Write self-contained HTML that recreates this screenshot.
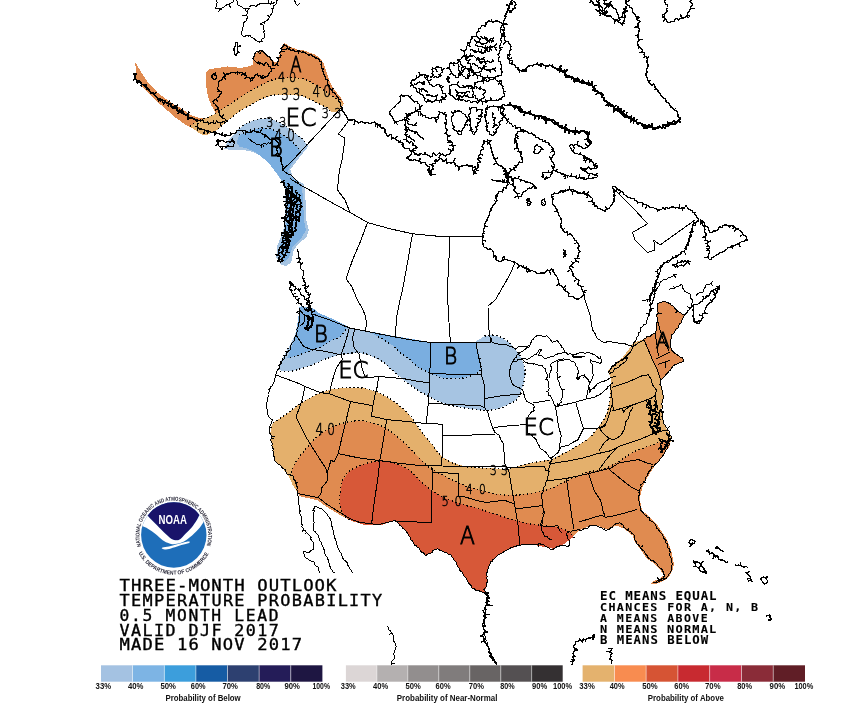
<!DOCTYPE html>
<html><head><meta charset="utf-8"><title>Three-Month Outlook Temperature Probability</title>
<style>
html,body{margin:0;padding:0;background:#fff;}
body{width:852px;height:719px;overflow:hidden;position:relative;}
svg{position:absolute;left:0;top:0;}
.map path{fill:none;stroke:#000;stroke-width:1;stroke-linejoin:round;shape-rendering:crispEdges;}
.map path[fill]{stroke:none;}
.map path.dt{stroke:#000;stroke-width:1.3;stroke-dasharray:1.3 2.6;}
.num{font-family:"DejaVu Sans",sans-serif;font-weight:200;fill:#000;stroke:#000;stroke-width:0.5px;}
.lbl{font-family:"DejaVu Sans",sans-serif;font-weight:200;fill:#000;stroke:#000;stroke-width:0.95px;}
.ttl{font-family:"DejaVu Sans Mono",monospace;font-weight:normal;fill:#000;stroke:#000;stroke-width:0.35px;}
.ttlb{font-weight:bold;stroke-width:0.1px;}
.lg{font-family:"Liberation Sans",sans-serif;font-weight:bold;fill:#111;}
</style></head>
<body>
<svg width="852" height="719" viewBox="0 0 852 719">
<g class="map">
<path d="M135.3 62.3 L141.1 72 L147.4 81.7 L157.8 92.9 L168.9 101.2 L182.9 109.5 L190 114.5 L195.6 116.9 L204.1 118.8 L211.6 117.9 L215.8 115 L214.5 110.5 L211.5 105.5 L209.2 100 L207.6 94.4 L206 85 L205.8 78 L206.5 72 L209.3 69.2 L219 67.8 L227.4 66.4 L240 67.8 L247 67 L252.9 64.8 L253.6 56.4 L257.8 50.9 L262 50.9 L268.9 56.4 L274.5 62 L278 61.3 L280 53.6 L282 46 L284.5 43 L290 46.5 L297 49.5 L303.3 50 L309 52.5 L315 54.5 L321 59 L324 64 L326.5 72 L329 80 L332.5 87 L337 93 L341.5 98.5 L343.8 103.6 L341 109.2 L336 112 L332.3 112.5 L326.8 107.8 L315.6 102.3 L301.7 95.8 L285.6 94.7 L272.8 95.3 L261.4 99.1 L251 104.7 L240.7 110.4 L232.3 116.9 L227.6 120.7 L221.9 125.4 L218.2 129.1 L213.5 132 L206.9 134.8 L202.2 134.8 L197.5 132 L192.8 128.2 L185.6 124.8 L175.9 117.9 L166.2 109.5 L155 99.8 L143.9 88.7 L136.3 78.9Z" style="fill:#E08B50;stroke:none"/>
<path d="M340.5 100 L335.7 98.2 L327.4 92.6 L318 86 L307.9 80.6 L299.5 78.3 L285.6 77.5 L271.7 80.1 L261.4 85 L251 90.6 L240.7 97.2 L230.4 103.8 L221.9 109.4 L216 113.5 L205 118.5 L196 122 L190 126.3 L192.8 128.2 L197.5 132 L202.2 134.8 L206.9 134.8 L213.5 132 L218.2 129.1 L221.9 125.4 L227.6 120.7 L232.3 116.9 L240.7 110.4 L251 104.7 L261.4 99.1 L272.8 95.3 L285.6 94.7 L301.7 95.8 L315.6 102.3 L326.8 107.8 L332.3 112.5 L336 112 L341 109.2 L343 104Z" style="fill:#E4B06C;stroke:none"/>
<path d="M223.9 149.3 L228.2 140.8 L236.6 131 L245.1 123.9 L256.3 119.7 L266.2 118.3 L274.6 120.4 L284.5 125.4 L295.8 133.8 L303.1 139.5 L308.3 146.3 L301.5 155 L294.8 163.4 L290.5 169.5 L292 175 L297.2 180.3 L304.2 184.5 L305.5 200 L306.2 220 L308.8 230 L306.2 237.5 L298 244 L293.8 250 L291.2 262.5 L286 266 L281.2 265 L276.2 257.5 L277.5 245 L283 232 L285 220 L285.5 200 L284.5 187.3 L280.3 178.9 L274.6 170.4 L267.6 162 L259.2 154.9 L249.3 150.7 L236.6 150Z" style="fill:#A6C4E2;stroke:none"/>
<path d="M239.4 135.2 L249.3 130.3 L260.6 128.2 L270.4 128.9 L278.9 132.4 L287.3 138 L295.8 145 L300 150.7 L296 158 L291 165 L288 171 L291 177 L298 182 L302 186 L303 200 L304 220 L306 230 L302 237 L293 246 L289 258 L284 262 L279 257 L280 245 L286 230 L287.5 210 L287 195 L284 184 L278 175 L271 166 L263 158 L255 152 L247 148.5 L239.4 146.5 L236.6 142.3Z" style="fill:#7AAEE0;stroke:none"/>
<path d="M299.5 307.5 L302.3 306.1 L314.8 308.9 L319 313.1 L335 320 L350 327.5 L372 332 L395 336.2 L415 339.5 L432.5 342.5 L455 342.5 L475.7 342.3 L477.5 340.5 L484.5 336.1 L493.3 335.2 L502.1 337.9 L510.9 344 L519.7 354.6 L524.1 365.1 L525 373.9 L523.5 384 L519 396.6 L511.5 403.2 L496.4 409.2 L483.3 410.3 L464.5 407.9 L445.7 404.1 L430.7 397.6 L417.6 390 L404.4 380.7 L391.3 369.4 L382.7 361.6 L368.6 354.6 L358 352.8 L340.4 354.6 L322.8 359.9 L313.4 364.5 L300.9 368.7 L289.8 371.5 L278 370.1 L281.4 360.4 L288.4 347.8 L295.3 334 L298 320Z" style="fill:#A6C4E2;stroke:none"/>
<path d="M299.5 307.5 L302.3 306.1 L314.8 308.9 L319 313.1 L335 320 L348 326.5 L340 336.5 L330 341 L321.8 346.5 L310.6 350.6 L299.5 354.8 L287 358.3 L290.5 350 L295.3 336 L298 320Z" style="fill:#7AAEE0;stroke:none"/>
<path d="M360 329.5 L395 336.2 L432.5 342.5 L475.7 342.3 L480.1 358.1 L481 368.7 L475.7 373.9 L461.6 378.3 L444 378.3 L431.7 373.9 L417.6 366.9 L410.8 359.9 L400 352.8 L393.2 345.8 L375.6 335.2 L366 331Z" style="fill:#7AAEE0;stroke:none"/>
<path d="M273.1 422.6 L280 418.4 L288.4 412.8 L296.7 405.9 L307.9 398.9 L319 393.3 L331.4 389.4 L348.3 387.5 L365.2 388.5 L380.2 393.1 L395.2 402.5 L406.5 411.9 L413 419.5 L420.7 430.7 L430 442 L441.4 456.4 L452.9 463 L467.6 467.1 L480.8 467.9 L494 468.5 L508.7 468.8 L518.6 466.3 L535 462.2 L551.5 459.5 L568.2 451 L580 444.2 L585.8 440.3 L592.6 434.5 L604.3 418.9 L608.2 409.2 L609.5 401.3 L610.4 391 L611.4 380.1 L607.6 370.8 L615.1 363.2 L622.6 357.6 L628.3 350.1 L633.9 342.6 L643.7 339.2 L654.9 333.5 L656.3 329.3 L657 316.6 L657.7 303.9 L664.8 301.1 L670.4 303.9 L676.1 309.6 L681.7 313.8 L684.5 315.2 L681.7 320.8 L678.9 326.5 L674.6 332.1 L671.8 336.3 L670.4 340.6 L670.4 346.2 L671.8 350.4 L674.6 353.2 L678.9 356.1 L683.1 358.9 L683.1 361.7 L678.9 363.1 L676.1 364.5 L673.2 365.9 L670.4 370.1 L667.6 373 L663.4 377.2 L660.6 380 L662.1 390.1 L663.4 398.4 L662.1 405.4 L661 410 L662.5 418 L665 425 L665.8 427.6 L671.5 437 L669.6 446.3 L664 453.8 L658.3 461.4 L652.7 468.9 L647 478.3 L642.3 487.9 L640.4 495 L639.8 499.1 L642 510.2 L648.6 516.3 L657.6 525.3 L666.5 538.8 L671 550.2 L672.8 558 L673.8 564 L672.7 570 L670 575 L665 580 L659 583 L653 584.3 L650.8 583.6 L653.5 581 L659 579 L663.8 575.5 L659.8 569 L653 562.6 L646.3 558 L641.7 551 L638.3 546.5 L635 542 L632.8 535.6 L628.5 532 L624.3 529 L626.8 529.7 L616.2 525.5 L607.8 529.7 L597.2 525.5 L588.7 526.6 L580.3 529.7 L571.8 538.2 L563.4 544.5 L552.8 548.7 L542.3 546.6 L531.7 544.5 L519 545.6 L508 549.5 L497 556 L490 564 L486.5 573 L487.5 582 L484.3 593.2 L472.6 588.5 L463.2 574.4 L451.5 555.6 L437.4 548.6 L425.6 555.6 L413.9 543.9 L406.9 532.2 L395.1 520.4 L380 525.4 L363.5 524.5 L352.3 521.2 L341.2 515.6 L327.3 507.3 L317.6 500.3 L299.5 496.2 L296 490 L292.6 485 L289.8 478.2 L287 474 L282.8 468.5 L278.6 464.3 L275.2 461.5 L274.5 457.3 L273.1 449 L271.7 442 L270.3 433.7 L271 427Z" style="fill:#E4B06C;stroke:none"/>
<path d="M291.2 472.6 L295.3 462.9 L302.3 453.2 L310.6 443.4 L319 435.1 L331.4 427 L346.4 422.3 L360.4 420.6 L372.5 423.1 L385 427.5 L395 435 L403.8 442.5 L412.5 451.2 L420 459 L429.9 467.9 L444.6 476.1 L457.8 482.7 L470 487.5 L489 492.6 L502.2 495 L518.6 495 L535 492.6 L551.3 488.5 L568.2 480.1 L586.9 472.6 L603.8 468.9 L618.9 461.4 L633.9 452 L652.7 444.5 L669.6 438.8 L669.6 446.3 L664 453.8 L658.3 461.4 L652.7 468.9 L647 478.3 L642.3 487.9 L640.4 495 L639.8 499.1 L642 510.2 L648.6 516.3 L657.6 525.3 L666.5 538.8 L671 550.2 L672.8 558 L673.8 564 L672.7 570 L670 575 L665 580 L659 583 L653 584.3 L650.8 583.6 L653.5 581 L659 579 L663.8 575.5 L659.8 569 L653 562.6 L646.3 558 L641.7 551 L638.3 546.5 L635 542 L632.8 535.6 L628.5 532 L624.3 529 L626.8 529.7 L616.2 525.5 L607.8 529.7 L597.2 525.5 L588.7 526.6 L580.3 529.7 L571.8 538.2 L563.4 544.5 L552.8 548.7 L542.3 546.6 L531.7 544.5 L519 545.6 L508 549.5 L497 556 L490 564 L486.5 573 L487.5 582 L484.3 593.2 L472.6 588.5 L463.2 574.4 L451.5 555.6 L437.4 548.6 L425.6 555.6 L413.9 543.9 L406.9 532.2 L395.1 520.4 L380 525.4 L363.5 524.5 L352.3 521.2 L341.2 515.6 L327.3 507.3 L317.6 500.3 L299.5 496.2Z" style="fill:#E08B50;stroke:none"/>
<path d="M349.5 519.8 L344 515.6 L339.8 505.9 L339.8 494.8 L342.6 480.9 L349.5 471.1 L363.5 464.2 L381 460.8 L397.5 464.1 L410 470.5 L420 481 L429.9 489.3 L442.1 496.9 L460.8 504 L479.2 509 L493.9 513.9 L510.4 518.9 L525.2 523 L542.3 525.5 L559.2 527.6 L571.8 534 L574 538 L571.8 538.2 L563.4 544.5 L552.8 548.7 L542.3 546.6 L531.7 544.5 L519 545.6 L508 549.5 L497 556 L490 564 L486.5 573 L487.5 582 L484.3 593.2 L472.6 588.5 L463.2 574.4 L451.5 555.6 L437.4 548.6 L425.6 555.6 L413.9 543.9 L406.9 532.2 L395.1 520.4 L380 525.4 L363.5 524.5 L355 522Z" style="fill:#D75838;stroke:none"/>
<path d="M664.8 301.1 L670.4 303.9 L676.1 309.6 L681.7 313.8 L684.5 315.2 L681.7 320.8 L678.9 326.5 L674.6 332.1 L671.8 336.3 L670.4 340.6 L670.4 346.2 L671.8 350.4 L674.6 353.2 L678.9 356.1 L683.1 358.9 L683.1 361.7 L678.9 363.1 L676.1 364.5 L673.2 365.9 L670.4 370.1 L667.6 373 L663.4 377.2 L660.6 380 L659.2 375.8 L656.3 367.3 L652.1 358.9 L647.9 349 L643.7 339.2 L654.9 333.5 L656.3 329.3 L657 316.6 L657.7 303.9Z" style="fill:#E08B50;stroke:none"/>
<path d="M340.5 100 C339.7 99.7 337.9 99.4 335.7 98.2 C333.5 97 330.3 94.6 327.4 92.6 C324.4 90.6 321.2 88 318 86 C314.8 84 311 81.9 307.9 80.6 C304.8 79.3 303.2 78.8 299.5 78.3 C295.8 77.8 290.2 77.2 285.6 77.5 C281 77.8 275.7 78.8 271.7 80.1 C267.7 81.3 264.8 83.2 261.4 85 C257.9 86.8 254.4 88.6 251 90.6 C247.6 92.6 244.1 95 240.7 97.2 C237.3 99.4 233.5 101.8 230.4 103.8 C227.3 105.8 224.3 107.8 221.9 109.4 C219.5 111 218.8 112 216 113.5 C213.2 115 208.3 117.1 205 118.5 C201.7 119.9 198.5 120.7 196 122 C193.5 123.3 191 125.6 190 126.3" class="dt"/>
<path d="M218.2 129.1 C218.8 128.5 220.3 126.8 221.9 125.4 C223.5 124 225.9 122.1 227.6 120.7 C229.3 119.3 230.1 118.6 232.3 116.9 C234.5 115.2 237.6 112.4 240.7 110.4 C243.8 108.4 247.6 106.6 251 104.7 C254.4 102.8 257.8 100.7 261.4 99.1 C265 97.5 268.8 96 272.8 95.3 C276.8 94.6 280.8 94.6 285.6 94.7 C290.4 94.8 296.7 94.5 301.7 95.8 C306.7 97.1 311.4 100.3 315.6 102.3 C319.8 104.3 324 106.1 326.8 107.8 C329.6 109.5 331.4 111.7 332.3 112.5" class="dt"/>
<path d="M236.6 131 C238 129.8 241.8 125.8 245.1 123.9 C248.4 122 252.8 120.6 256.3 119.7 C259.8 118.8 263.1 118.2 266.2 118.3 C269.2 118.4 271.6 119.2 274.6 120.4 C277.7 121.6 281 123.2 284.5 125.4 C288 127.6 292.7 131.5 295.8 133.8 C298.9 136.2 301 137.4 303.1 139.5 C305.2 141.6 307.4 145.2 308.3 146.3" class="dt"/>
<path d="M239.4 135.2 C241.1 134.4 245.8 131.5 249.3 130.3 C252.8 129.1 257.1 128.4 260.6 128.2 C264.1 128 267.3 128.2 270.4 128.9 C273.4 129.6 276.1 130.9 278.9 132.4 C281.7 133.9 284.5 135.9 287.3 138 C290.1 140.1 293.7 142.9 295.8 145 C297.9 147.1 299.3 149.8 300 150.7" class="dt"/>
<path d="M288.4 347.8 C287.2 349.9 283.1 356.7 281.4 360.4 C279.7 364.1 276.6 368.2 278 370.1 C279.4 372 286 371.7 289.8 371.5 C293.6 371.3 297 369.9 300.9 368.7 C304.8 367.5 309.8 366 313.4 364.5 C317 363 318.3 361.5 322.8 359.9 C327.3 358.2 334.5 355.8 340.4 354.6 C346.3 353.4 353.3 352.8 358 352.8 C362.7 352.8 364.5 353.1 368.6 354.6 C372.7 356.1 378.9 359.1 382.7 361.6 C386.5 364.1 387.7 366.2 391.3 369.4 C394.9 372.6 400 377.3 404.4 380.7 C408.8 384.1 413.2 387.2 417.6 390 C422 392.8 426 395.2 430.7 397.6 C435.4 400 440.1 402.4 445.7 404.1 C451.3 405.8 458.2 406.9 464.5 407.9 C470.8 408.9 478 410.1 483.3 410.3 C488.6 410.5 491.7 410.4 496.4 409.2 C501.1 408 507.7 405.3 511.5 403.2 C515.3 401.1 517 399.8 519 396.6 C521 393.4 522.5 387.8 523.5 384 C524.5 380.2 524.9 377 525 373.9 C525.1 370.8 525 368.3 524.1 365.1 C523.2 361.9 521.9 358.1 519.7 354.6 C517.5 351.1 513.8 346.8 510.9 344 C508 341.2 505 339.4 502.1 337.9 C499.2 336.4 496.2 335.5 493.3 335.2 C490.4 334.9 486 336 484.5 336.1" class="dt"/>
<path d="M348 326.5 C346.7 328.2 343 334.1 340 336.5 C337 338.9 333 339.3 330 341 C327 342.7 325 344.9 321.8 346.5 C318.6 348.1 314.3 349.2 310.6 350.6 C306.9 352 303.4 353.5 299.5 354.8 C295.6 356.1 289.1 357.7 287 358.3" class="dt"/>
<path d="M480.1 358.1 C480.2 359.9 481.7 366.1 481 368.7 C480.3 371.3 478.9 372.3 475.7 373.9 C472.5 375.5 466.9 377.6 461.6 378.3 C456.3 379 449 379 444 378.3 C439 377.6 436.1 375.8 431.7 373.9 C427.3 372 421.1 369.2 417.6 366.9 C414.1 364.6 413.7 362.2 410.8 359.9 C407.9 357.5 402.9 355.1 400 352.8 C397.1 350.5 397.3 348.7 393.2 345.8 C389.1 342.9 378.5 337 375.6 335.2" class="dt"/>
<path d="M273.1 422.6 C274.2 421.9 277.4 420 280 418.4 C282.6 416.8 285.6 414.9 288.4 412.8 C291.2 410.7 293.4 408.2 296.7 405.9 C299.9 403.6 304.2 401 307.9 398.9 C311.6 396.8 315.1 394.9 319 393.3 C322.9 391.7 326.5 390.4 331.4 389.4 C336.3 388.4 342.7 387.6 348.3 387.5 C353.9 387.4 359.9 387.6 365.2 388.5 C370.5 389.4 375.2 390.8 380.2 393.1 C385.2 395.4 390.8 399.4 395.2 402.5 C399.6 405.6 403.5 409.1 406.5 411.9 C409.5 414.7 410.6 416.4 413 419.5 C415.4 422.6 417.9 426.9 420.7 430.7 C423.5 434.4 426.6 437.7 430 442 C433.4 446.3 437.6 452.9 441.4 456.4 C445.2 459.9 448.5 461.2 452.9 463 C457.3 464.8 463 466.3 467.6 467.1 C472.2 467.9 476.4 467.7 480.8 467.9 C485.2 468.1 489.4 468.4 494 468.5 C498.6 468.6 504.6 469.2 508.7 468.8 C512.8 468.4 514.2 467.4 518.6 466.3 C523 465.2 529.5 463.3 535 462.2 C540.5 461.1 546 461.4 551.5 459.5 C557 457.6 563.5 453.6 568.2 451 C573 448.4 577.1 446 580 444.2 C582.9 442.4 583.7 441.9 585.8 440.3 C587.9 438.7 589.5 438.1 592.6 434.5 C595.7 430.9 601.7 423.1 604.3 418.9 C606.9 414.7 607.3 412.1 608.2 409.2 C609.1 406.3 609.1 404.3 609.5 401.3 C609.9 398.3 610.2 392.7 610.4 391" class="dt"/>
<path d="M291.2 472.6 C291.9 471 293.4 466.1 295.3 462.9 C297.2 459.7 299.8 456.4 302.3 453.2 C304.9 449.9 307.8 446.4 310.6 443.4 C313.4 440.4 315.5 437.8 319 435.1 C322.5 432.4 326.8 429.1 331.4 427 C336 424.9 341.6 423.4 346.4 422.3 C351.2 421.2 356 420.5 360.4 420.6 C364.8 420.7 368.4 422 372.5 423.1 C376.6 424.2 381.2 425.5 385 427.5 C388.8 429.5 391.9 432.5 395 435 C398.1 437.5 400.8 439.8 403.8 442.5 C406.7 445.2 409.8 448.5 412.5 451.2 C415.2 454 417.1 456.2 420 459 C422.9 461.8 425.8 465 429.9 467.9 C434 470.8 440 473.6 444.6 476.1 C449.2 478.6 453.6 480.8 457.8 482.7 C462 484.6 464.8 485.9 470 487.5 C475.2 489.1 483.6 491.4 489 492.6 C494.4 493.9 497.3 494.6 502.2 495 C507.1 495.4 513.1 495.4 518.6 495 C524.1 494.6 529.5 493.7 535 492.6 C540.5 491.5 545.8 490.6 551.3 488.5 C556.8 486.4 562.3 482.8 568.2 480.1 C574.1 477.5 581 474.5 586.9 472.6 C592.8 470.7 598.5 470.8 603.8 468.9 C609.1 467 613.9 464.2 618.9 461.4 C623.9 458.6 628.3 454.8 633.9 452 C639.5 449.2 646.8 446.7 652.7 444.5 C658.7 442.3 666.8 439.8 669.6 438.8" class="dt"/>
<path d="M349.5 519.8 C348.6 519.1 345.6 517.9 344 515.6 C342.4 513.3 340.5 509.4 339.8 505.9 C339.1 502.4 339.3 499 339.8 494.8 C340.3 490.6 341 484.8 342.6 480.9 C344.2 476.9 346 473.9 349.5 471.1 C353 468.3 358.2 465.9 363.5 464.2 C368.8 462.5 375.3 460.8 381 460.8 C386.7 460.8 392.7 462.5 397.5 464.1 C402.3 465.7 406.2 467.7 410 470.5 C413.8 473.3 416.7 477.9 420 481 C423.3 484.1 426.2 486.7 429.9 489.3 C433.6 491.9 437 494.4 442.1 496.9 C447.2 499.3 454.6 502 460.8 504 C467 506 473.7 507.4 479.2 509 C484.7 510.6 488.7 512.2 493.9 513.9 C499.1 515.5 505.2 517.4 510.4 518.9 C515.6 520.4 519.9 521.9 525.2 523 C530.5 524.1 536.6 524.7 542.3 525.5 C548 526.3 554.3 526.2 559.2 527.6 C564.1 529 569.3 532.3 571.8 534 C574.3 535.7 573.6 537.3 574 538" class="dt"/>
<path d="M313.5 314.3 L331.1 320.5 L349.2 327.9 L365.6 331.2 L382 334.5 L395.2 337 L413.2 340.3 L430 342.4 L450.4 342.9 L475.9 342.6 L490.7 342.3 L490.7 337.6 L492.3 342.6 L498.9 344.2 L505 344.2 L510 346.3 L515.8 348.8 L518.3 346.7 L524.2 346.3 L530 345.8"/>
<path d="M349.2 327.9 L346.7 337.8 L344.2 346 L341.8 352.6 L340.9 355 L342.6 359.2 L339.3 363.3 L336 369 L334.4 373.9 L331.9 382.2 L330.4 388 L329.7 393.9"/>
<path d="M296.6 336 L300.9 342.3 L303.7 346.5 L310.6 349.2 L320.4 350.6 L331.1 352.6 L340.9 355"/>
<path d="M275.9 375 L296.7 382.6 L305.1 386.5 L320 392.5 L329.7 393.9 L350.6 401.6 L372.9 405.7"/>
<path d="M354.9 328.8 L352.4 337.8 L354.1 347.6 L359 354.2 L362.3 369 L365.6 378 L372.2 377.2 L378.7 376.4 L377.1 387.1 L375.6 392.5 L372.9 405.7"/>
<path d="M378.7 376.4 L405 378.9 L420 381.8 L429.7 382.5"/>
<path d="M430.4 342.6 L430.2 360 L429.7 382.5 L428.3 403.4 L426.3 423.5"/>
<path d="M430.2 373.8 L452.9 374.1 L482.4 374.6"/>
<path d="M475.9 342.6 L478.3 355.7 L480.8 365.6 L481.9 376.3 L484 383.9 L484.7 397.8 L484.7 407.6"/>
<path d="M428.3 403.4 L445 404.1 L461.7 404.8 L472.9 405.5 L479.8 405.5 L484.7 407.6"/>
<path d="M484.7 407.6 L488.2 413.1 L489.5 418.7 L492.3 427 L495.1 432.6 L499.3 435.4 L500.7 439.5 L503.5 443.7 L504.1 453.4 L504.8 463.2 L505.6 466.3"/>
<path d="M484.7 398.5 L500 396 L522.3 393.9"/>
<path d="M493.5 428.2 L500 426.6 L525.7 424.5"/>
<path d="M443 435.4 L495.1 434.7"/>
<path d="M372.9 405.7 L371.5 416.2 L386.8 419.6 L400 420.8 L426.3 423.5 L442.3 424.2 L443 435.4 L441.6 466"/>
<path d="M350.6 401.6 L338.1 453.7 L358.9 457.9 L379.8 460.7 L400 463.4 L420 465.5 L441.6 466 L492.3 466.5 L505.6 466.3"/>
<path d="M386.8 419.6 L379.8 460.7 L377.7 480 L374.5 500 L371.6 523.9"/>
<path d="M338.1 453.7 L333.9 462.1 L331.1 460 L328.3 469 L327.3 474 L327.3 480.9 L321.7 487.8 L321.7 492 L318.2 497.6"/>
<path d="M305.1 386.5 L302.3 398.9 L299.5 407.3 L296 417 L300.9 426.7 L306.5 437.9 L313.4 449 L320.4 460.1 L325.9 468.5 L327.3 474"/>
<path d="M297.4 493.4 L307.8 495.5 L318.2 497.6 L327.3 504.5 L338.4 511.5 L349.5 518.4 L357.9 521.9 L370.4 523.9 L380 524.3 L395.1 520.4"/>
<path d="M395.8 521.6 L427.4 522.2 L431.5 522.2 L432.3 472 L431.9 467"/>
<path d="M432.3 472 L458.6 473.7 L458.6 495.9 L464.4 496.7 L477.5 500.8 L485.7 502.4 L493.9 501.6 L503.8 500 L509.6 502.1 L514.5 504.1"/>
<path d="M505.6 466.3 L508.7 470.4 L514.5 504.1 L515.3 509 L518.6 528.7 L519.5 545"/>
<path d="M515.3 509 L541.6 505.7"/>
<path d="M505.6 466.3 L507 467.6 L527.8 466.9 L544.5 466.2 L545.9 470.4 L550.1 471.8"/>
<path d="M512.5 362.1 L510.8 365.8 L509.2 373.3 L510.8 380"/>
<path d="M533.4 403 L550.1 400.2"/>
<path d="M555.6 407.1 L557 416.2 L558.4 425.9 L561.2 435.6 L559.8 444 L559.8 448.2 L558.4 452.3 L551.5 457.9 L551.5 459.3"/>
<path d="M558.4 452.3 L561.2 446.8 L568.2 445.4 L572.3 442.6 L577.9 439.8 L580.7 434.2 L583.4 428.7 L589 428.7 L596 428.7 L600.1 427.3 L605.7 425.9"/>
<path d="M557 406.4 L575.1 402.3 L586.2 399"/>
<path d="M575.8 402.3 L579.3 414.8 L583.4 428.7"/>
<path d="M550.1 463.5 L551.5 463.5 L569.5 460.7 L583.4 457.9 L597.4 453.7 L610 450.9"/>
<path d="M541.9 505 L544.7 512.5 L541.9 520 L540 525.7 L549.4 526.6 L557.8 525.7 L559.7 530.4 L562 533"/>
<path d="M546.6 480.9 L566.3 478.5 L589.3 473.5 L609 468.6"/>
<path d="M566.3 478.5 L568.8 495.7 L571.2 512.2 L573.8 529.4"/>
<path d="M588.5 473.5 L594.2 490.8 L600.8 500.7 L603.3 512.2 L604.9 515.4"/>
<path d="M579.4 521.9 L591.6 518.1 L601 515.3 L605.7 517.2 L611.4 516.3 L620 514.4 L633.7 510.5 L636.9 508.9"/>
<path d="M609 469.4 L617.2 476 L625.4 482.6 L632 487.5 L638.6 490.8"/>
<path d="M609 469.4 L618.9 462.9 L628.7 461.2 L638.6 459.6 L646.8 462.9 L653.4 464.5"/>
<path d="M599.2 469.4 L606 460 L612 453 L616.4 448.1"/>
<path d="M610 450.9 L618.9 446.4 L638.6 439.9 L658.3 431.6 L668.2 430"/>
<path d="M609.2 438.4 L604 443 L600.8 448 L598.5 451.5"/>
<path d="M612.2 398 L612.1 404.3 L610 412 L608.2 417 L606.3 422.8 L602.4 427.7 L599.5 428.6 L604.3 434.5 L609.2 438.4 L614 439.8 L620.9 435.4 L624.7 428.6 L625.7 421.8 L628.6 417.9 L630 412 L633 407.5"/>
<path d="M612.6 411 L621.8 408.2 L623.8 412.1 L625.7 409.2 L630 406.3 L633 405.2"/>
<path d="M609.9 384.5 L610.6 385.9 L612 398.4 L613.4 410.9"/>
<path d="M612 387.3 L628.7 381.7 L642.6 375.5 L648.2 374.8 L650.9 378.9"/>
<path d="M650.9 378.9 L652.3 384.5 L656.5 390.1 L655.1 395.6 L650.9 398.4"/>
<path d="M613.4 410.9 L635.6 404 L650.9 398.4"/>
<path d="M655.1 395.6 L657.9 409.5"/>
<path d="M643.7 339.2 L647.9 349 L652.1 358.9 L656.3 367.3 L659.2 375.8 L660.6 380"/>
<path d="M655 333 L657 345 L658.5 356.1"/>
<path d="M657 318 L660.6 332 L664 342 L669 350.4"/>
<path d="M656.3 358.9 L670.4 351.8"/>
<path d="M657.7 364.5 L670.4 360.3"/>
<path d="M665 361 L666 368"/>
<path d="M607.8 373.4 L612 366.4 L620.3 360.9 L625.9 356.7 L630.1 352.5 L632.9 347 L638.4 342.8 L644 340"/>
<path d="M290 178.5 L297 183 L305 187.5 L315 193 L325 198.8 L337 205.5 L350 212.5 L367.5 222.5 L390 228.8 L412.5 233.8 L437.5 236.2 L462.8 237 L483.6 236.9"/>
<path d="M348.9 120 L344 127 L338.3 134.2 L344.9 138.1 L343.5 150 L342 160 L340 168 L338.8 175 L337.5 190 L345 200 L350 212.5"/>
<path d="M367.5 222.5 L360 242.5 L352.5 260 L346.2 278.8 L352 287 L357.4 300 L362.3 308.2 L365.6 316.4 L366.4 323 L365.6 331"/>
<path d="M412.5 233.8 L407.5 262.5 L402.5 290 L400.1 300 L396.8 316.4 L395.2 337"/>
<path d="M450 237 L448.8 262.5 L447.3 290 L448.5 315 L450.4 342.9"/>
<path d="M515.2 262.2 L509.8 274.8 L502.5 287.5 L495.3 300 L488 306 L488.2 322.9 L489.8 336 L490.7 342.3"/>
<path d="M341 108 L330 120 L318 133 L305 147 L293 160 L282.5 170"/>
<path d="M282.5 170 L288 174 L291.2 175 L296 180 L300 185 L305 187.5"/>
<path d="M583.9 294.7 L585 300 L590 315 L592.5 329.8 L595.9 335"/>
<path d="M612.5 187.5 L625 200 L635 210 L647.5 223.8 L632.5 232.5 L635 240 L647.5 252.5 L655 250 L653.8 240 L660 245 L695 220"/>
<path d="M395.1 520.4 L396 521.8 L397.8 522.4 L398.8 523.8 L399.7 525.2 L401.3 526 L402.2 527.5 L403.3 528.7 L404.7 529.6 L406 530.7 L406.9 532.2 L407.7 533.7 L408.4 535.3 L409.7 536.5 L410.5 538 L410.8 539.8 L412.3 540.9 L413.2 542.3 L413.9 543.9 L414.5 545.7 L416.6 545.9 L417.2 547.6 L419.1 548.1 L419.9 549.6 L420.5 551.3 L421.8 552.4 L423.5 553 L424.5 554.3 L425.6 555.6 L427.1 554.7 L428.3 553.5 L430.1 553.1 L431.9 552.8 L432.7 550.8 L434.1 549.8 L436 549.6 L437.4 548.6 L439 549.3 L440.3 550.7 L442.1 550.9 L443.7 551.7 L445.3 552.4 L447 553 L448.3 554.3 L450.1 554.4 L451.5 555.6 L452.1 557.3 L453.3 558.5 L454.1 560 L455.3 561.3 L456.3 562.7 L456.4 564.6 L457.7 565.8 L458.3 567.4 L459.5 568.6 L459.7 570.5 L461.3 571.6 L462.6 572.8 L463.2 574.4 L463.9 576 L465 577.3 L466.7 578.2 L467 580 L467.6 581.6 L468.6 583 L469.9 584.2 L471.1 585.4 L471.5 587.2 L472.6 588.5 L474.4 588.8 L475.8 590.3 L477.7 590.4 L479.4 590.9 L481 591.7 L482.7 592.3 L484.3 593.2"/>
<path d="M511.1 380 L511.6 382.1 L512.5 384 L513.9 385.6 L515.6 386.4 L517.4 387 L519.1 387.7 L520.6 388.9 L522.3 389.7 L523.3 391.7 L523.6 393.9 L524.8 395.5 L524.9 397.4 L525.7 399.2 L526.4 400.9 L527.7 401.9 L529.4 402.3 L530.6 403.4 L532 404.2 L533.4 405 L534.2 406.8 L533.7 408.8 L534.1 410.6 L532.8 411.6 L531.1 412.1 L530.4 413.7 L529.2 414.8 L528.3 416.7 L526.9 418.3 L526.4 420.3 L526.5 422.1 L526.5 423.9 L527.1 425.7 L527.1 427.5 L527 429.3 L527.4 431.1 L527.8 432.9 L529.2 433.8 L530.8 434.4 L532 435.6 L533.3 437.1 L534.8 438.4 L536.2 439.8 L536.9 441.8 L537.9 443.6 L538.9 445.4 L540.3 448.2 L541.5 449.5 L543.1 450.2 L544.5 451.3 L545.9 452.3 L546.6 453.8 L548.1 454.9 L548.7 456.5 L550.2 457.8 L551.5 459.3 L551.2 461.2 L549.9 462.8 L550.1 464.8 L549.7 466.7 L548.9 468.5 L548.7 470.4 L548.2 472 L548.2 473.6 L548.4 475.3 L547.2 476.7 L547.4 478.4 L547 480 L546.5 481.1 L545.7 482.6 L545.7 484.5 L544.8 486.1 L543.6 487.5 L543 489.1 L543.3 491.1 L542.6 492.7 L541.6 494.2 L541.8 495.8 L541.6 497.5 L542 499.1 L542.1 500.8 L542.7 502.4 L542.3 504.1 L542.2 505.8 L542.9 507.4 L543.4 509 L543.3 510.6 L543.2 512.3 L542.8 513.9 L543.5 515.6 L542.8 517.1 L543 518.8 L542.5 520.3 L542.4 522 L542.2 523.6 L541.5 525.1 L541.7 526.8 L541.3 528.3 L541.6 530 L542.5 531.7 L543.5 533.4 L544 535.3 L545 537 L547.1 536.8 L548.5 538.5 L550.2 539.3 L552 540"/>
<path d="M299.9 311.5 L298.7 313.1 L300 314.8 L299.2 316.4 L299.5 318 L299.8 319.8 L299.3 321.4 L298.9 323 L298.2 324.6 L298.3 326.3 L297.5 327.9 L296.9 329.5 L297.3 331.2 L296.8 332.8 L296.6 334.5 L295.3 336.7 L294.4 338.6 L294.1 340.7 L292.6 342.3 L291.2 343.7 L290.9 345.6 L290 347.2 L290.7 349.7 L288.4 350.6 L287.7 352.1 L286.2 353.1 L286.3 355.1 L285 356.2 L284.2 357.6 L284 359.4 L282.3 360.2 L281.7 361.8 L281.3 363.4 L280 364.5 L279 366.3 L279 368.6 L277.3 370.1 L276.6 372.2 L275.9 374.3 L275 375.8 L275.2 377.6 L274.6 379.2 L274.5 380.9 L273.6 382.4 L273.1 384 L272.3 385.6 L270.7 386.6 L270.1 388.3 L268.9 389.6 L269.3 391.3 L268.6 392.9 L268.5 394.5 L268.2 396.1 L267.6 397.8 L267.6 399.6 L267.3 401.4 L266.8 403.1 L266.6 404.9 L267 406.8 L266.8 408.6 L267.4 410.2 L267.9 411.9 L267.6 413.7 L268.2 415.4 L268.9 417 L270.2 418.1 L271.2 419.6 L273.1 419.8 L271.7 421.7 L271 423.9 L270.5 425.7 L269.1 427.4 L271.3 427.9 L269.1 427.4 L269.6 429.5 L269.5 431.5 L269.9 433.4 L271 435.1 L271.5 436.8 L274.5 436.5 L271.5 436.8 L271.3 438.6 L273.4 438.3 L271.3 438.6 L270.3 440.4 L271.7 442 L272.3 443.7 L271.9 445.6 L272.8 447.2 L273.1 449 L272.9 450.7 L273.5 452.4 L274 454 L273.4 455.8 L274.5 457.3 L274.7 459.4 L275.2 461.5 L276.8 463 L278.6 464.3 L280.4 465.3 L281.5 467 L282.8 468.5 L285.6 469.7 L286 471.9 L287 474 L289.2 474.3 L291.1 475.3 L293 476.1 L293.1 478.2 L294.1 479.6 L295.3 480.9 L295.2 482.8 L297.1 482.2 L295.2 482.8 L296.7 484.2 L296.9 486.1 L297.4 487.8 L296.8 489.7 L297.5 491.5 L297.4 493.4 L298.1 496.2 L298.6 497.8 L298.3 499.5 L298.5 501.2 L298.7 502.8 L298.8 504.5 L299.4 506 L299.4 507.7 L299.4 509.3 L300.2 510.8 L299.7 512.5 L299.9 514.1 L300.9 515.6 L301.2 517.2 L301.2 518.8 L301.3 520.4 L301.2 522 L301.2 523.6 L302.5 525.1 L301.6 526.8 L302.9 528.1 L303.8 529.8 L302.5 531 L303.8 529.8 L305.4 530.9 L306.3 532.6 L305.1 533.6 L306.3 532.6 L307.8 533.7 L309.1 534.8 L310.2 536 L310 538 L312 536.8 L310 538 L310.9 539.3 L311.9 540.6 L313 541.8 L313.4 543.4 L313.6 545.3 L313.6 547.1 L313.4 549 L311.9 550.1 L310.4 551 L309.2 552.5 L307.3 552.8 L305.5 551.4 L303.6 551.8 L304 553.7 L304.9 555.4 L305 557.4 L306.5 558.2 L308 559 L309.2 560.3 L310.8 561 L312.5 561.5 L314.3 562.1 L314.5 564 L315.2 565.6 L317 566.2 L318.4 567.2 L318.8 569 L319 571.1 L320 573"/>
<path d="M314.8 505.9 L314.5 507.5 L313.8 509.1 L314.2 510.8 L312.2 510.5 L314.2 510.8 L314 512.4 L313.2 513.9 L313.4 515.6 L313.4 517.3 L313.5 519.1 L313.6 520.8 L314.1 522.5 L313.5 524.3 L313.4 526 L313.9 527.8 L313.4 529.5 L314.1 531.1 L315.5 532.1 L316.3 533.6 L317.8 534.6 L318.7 536 L318.9 537.9 L319.5 539.9 L320.6 541.7 L321.7 543.4 L322.1 545.1 L323 546.7 L323.6 548.4 L324.2 550 L324.5 551.8 L324.8 554 L326 556 L327.1 557.3 L327.5 559 L328.9 560.6 L328.9 562.7 L329.6 564.6 L330 566.5 L330.4 568.4 L331.9 569.7 L332.5 571.5 L335 573"/>
<path d="M314.8 505.9 L316.5 506.6 L318.2 507.5 L319.8 508.3 L321.7 508.7 L323 510.2 L324.5 511.5 L325.9 512.8 L327.2 514 L327.9 515.7 L328.9 517.1 L330.1 518.4 L330.2 520.1 L331.5 521.4 L331.5 523.1 L331.2 524.9 L332 526.4 L332.6 527.9 L332.9 529.5 L333.5 531 L333.7 532.7 L333.3 534.5 L334.8 535.8 L334.4 537.6 L335.5 539 L335.6 540.7 L336.6 542.1 L336.8 543.9 L337.2 545.5 L337.7 547.1 L338.1 548.8 L339 550.3 L339.8 551.8 L341 553.3 L341.4 555.1 L342.5 556.6 L343 558.4 L344 560 L346.2 561.5 L347.4 563 L347.4 565.1 L348.8 566.5 L349.6 568.2 L350.7 569.7 L351.5 571.4 L352.5 573"/>
<path d="M387.2 625.8 L388.5 627.7 L389 630 L390.5 631 L391.4 632.6 L389.1 634.6 L391.4 632.6 L392.5 634 L393.7 635.9 L392.9 638 L393.5 640 L394.1 641.7 L395 643.2 L395.4 644.9 L396.2 646.5 L395.8 648.3 L395 650 L394.2 652 L393.8 654 L394.4 656 L395 658 L393.6 659.6 L392 661 L391 663.2 L394.4 663.6 L391 663.2 L391.5 665.6"/>
<path d="M496.2 665 L495.7 663.2 L494 661.9 L494.6 659.6 L493.3 658.2 L492.5 656.5 L491.3 655.2 L491.5 653.3 L490.2 652 L489.1 650.7 L488.8 649 L488.3 647.3 L488 645.5 L487.1 643.9 L485.6 642.6 L486.3 640.4 L485 639 L485.3 637.2 L484.9 635.4 L484.6 633.6 L484.9 631.8 L483.9 630.1 L483.3 628.4 L483.8 626.5 L484.7 624.8 L483.7 622.9 L483.7 621.1 L484.9 619.4 L484.7 617.6 L484.7 615.8 L485 614 L485.1 612.3 L485.9 610.7 L486.1 609.1 L485.6 607.3 L486.1 605.7 L486.2 604 L486.5 602.4 L486.7 600.8 L489.3 601.2 L486.7 600.8 L486.7 599.2 L486.7 597.5 L487.5 596 L485.8 594.7 L484.3 593.2 L485.4 591.8 L483.9 589.6 L484.8 588.2 L486.2 586.8 L486.4 585.1 L486.3 583.4 L487.5 582 L487.6 580.2 L486.8 578.4 L487.1 576.6 L486.9 574.8 L486.5 573 L487.7 571.7 L487.7 570 L488.2 568.5 L488.9 567 L489.2 565.4 L490 564 L490.2 561.8 L492.2 561.2 L493 559.6 L494.7 558.7 L495.8 557.3 L497 556 L498.3 554.6 L500.1 554 L501.8 553.4 L503.2 552.2 L504.7 551.1 L506.4 550.4 L508 549.5 L509.5 548.7 L510.9 547.6 L512.4 547.1 L514.1 546.7 L515.8 546.4 L517.2 545.6 L519 545.6 L521 545.1 L523 544.5 L525 544 L526.7 544.2 L528.4 544.1 L530 544.3 L531.7 544.5 L533.4 545 L535 543.9 L536.8 544.5 L538.4 543.9 L538.6 546.3 L538.4 543.9 L540 543.5 L541.6 544.9 L543.9 545 L545.6 546.3 L547.1 547.3 L548.8 548 L550.3 549.1 L552.8 549.4 L555 548.2 L556.7 546.8 L558.8 546.4 L560.7 545.4 L562.6 545.5 L564.5 545.3 L566.3 546.3 L568.2 546.1 L570 545.4 L569.6 543.6 L569.2 541.8 L569 540 L567.8 538.5 L567.9 536.1 L566 535 L567.2 532.2 L568.7 531.5 L570.7 532.4 L571.9 530.8 L573.8 530.7 L575.7 530.2 L577.6 529.9 L579.5 530 L581.3 530.4 L583.2 529.2 L585.1 528 L587.6 528.3 L589 526.5 L590.7 525.2 L592.6 525.2 L594.5 525.1 L596.3 525.7 L597.7 526.7 L599.3 527.2 L601 527.5 L602.5 528.6 L604.1 529.5 L605.1 527.9 L604.1 529.5 L605.7 530.4 L607.6 529.9 L609.5 529.4 L610.4 527.8 L612.4 527.4 L613.2 525.7 L615 524.3 L617 523.3 L620 522.8 L621.4 523.9 L623 525 L623.1 527.3 L624.9 528.1 L626.3 529.1 L627.4 530.3 L629.1 527.9 L627.4 530.3 L629 531 L630.9 531.9 L632.1 533.6 L633.8 534.8 L634.7 536.3 L634.6 538.3 L634.9 540 L636 541.5 L636.6 543.5 L638.2 544.6 L639.5 546 L640.3 547.7 L642.8 545.9 L640.3 547.7 L641.4 549.1 L642.7 550.4 L644.4 551.2 L644.8 552.9 L645.5 554.3 L647 555.3 L647.2 557.1 L648.5 558.1 L649.8 559 L650.9 560.3 L652.8 560.4 L653.9 561.6 L655.2 562.6 L656.5 563.6 L657.5 565 L658.7 567 L660.6 568.3 L662 569.3 L662.6 570.8 L663.4 572.2 L663.5 574 L665 575 L663.8 576.8 L662.5 578.5 L660.6 579.4 L658.8 579.8 L657.4 577.3 L658.8 579.8 L657.4 580.8 L656 582 L653.9 582.8 L656 582.4 L658 582 L659.5 580.9 L661.2 580.2 L663 580 L663.6 578.1 L664.6 579.4 L663.6 578.1 L666 578.7 L666.8 577 L668 576 L669.2 574 L670.5 572 L671.1 570.4 L671.7 568.8 L671.7 567 L671.9 565.4 L672.2 563.8 L671.5 562.2 L671.2 560.5 L671.4 558.7 L670.7 557.1 L669.6 555.6 L669.7 553.8 L670.3 552 L669.5 550.4 L669.2 548.7 L667.6 547.5 L667.4 545.7 L667.4 543.9 L665.5 542.8 L666.2 540.7 L665 539.3 L663.5 538.2 L663.2 536.2 L662.3 534.7 L661.3 533.2 L660 532 L659 530.5 L658.1 528.9 L656.2 528 L656.1 525.9 L655.3 524.1 L654.1 522.9 L652.7 521.7 L650.9 520.9 L649.1 520.2 L649.2 517.5 L647.2 517 L646.2 515.4 L644.2 514.7 L643.3 512.9 L642 511.5 L640.5 510.3 L640.5 508.6 L640.3 507 L639.6 505.5 L639.1 503.9 L639.2 502.2 L638.9 500.6 L638.3 499.1 L638.9 497.6 L638.8 495.9 L639.7 494.4 L639 492.6 L639.5 491.1 L639.9 489.5 L640.5 488 L641.1 486.5 L640.9 484.5 L642.7 483.5 L643.5 482.1 L645.4 483 L643.5 482.1 L645.1 481 L645 479.1 L645.4 477.4 L647 476.4 L647.2 474.6 L648.2 473.2 L648.7 471.6 L650.3 470.5 L651 469 L651.5 466.9 L653.9 466.5 L654.8 464.8 L656.1 463.5 L657.6 462.4 L658.9 461 L659.6 459.2 L661 458 L662.1 456.7 L663.2 455.3 L664.3 453.9 L665 452.3 L665.5 450.6 L666.9 449.4 L667.5 447.8 L667.1 445.8 L669.3 444.8 L668.8 442.7 L669.5 441.2 L669.9 439.6 L670.9 438.1 L671.7 436.7 L671.5 438.2 L671.2 436.4 L669.8 435.1 L669.5 433.3 L669.2 431.5 L668.2 430 L667.1 428.4 L669.3 426.9 L667.1 428.4 L665.8 426.8 L665 425 L663.8 423.5 L663.8 421.5 L663 419.8 L662.5 418 L662 416.4 L662.8 414.6 L661.9 413.1 L661.5 411.6 L661 410 L662.8 408 L662.1 405.4 L661.9 403.5 L662.7 401.9 L662.6 400.1 L663.4 398.4 L663.7 396.6 L662.9 395.1 L662.2 393.5 L662.8 391.7 L662.1 390.1 L661.6 388.2 L661.3 386.1 L660 384.5 L660.5 382.3 L660.6 380 L662.4 379 L663.4 377.2 L665.1 376.1 L666.1 374.3 L667.6 373 L668.7 371.3 L670.4 370.1 L671.4 368.7 L672.1 367.2 L673.2 365.9 L674.5 364.9 L676.1 364.5 L678.9 363.1 L681 362.5 L683.1 361.7 L683.1 358.9 L682.1 357.4 L680.1 357.3 L678.9 356.1 L677.5 355.1 L676.2 353.9 L674.6 353.2 L673.4 351.6 L671.8 350.4 L671.1 348.3 L670.4 346.2 L670.7 344.3 L670.5 342.5 L670.4 340.6 L671.2 338.5 L671.8 336.3 L671.9 334.4 L673.8 333.6 L674.6 332.1 L675.2 330.3 L676.3 328.9 L677.9 328 L678.9 326.5 L679.1 324.3 L681 322.8 L681.7 320.8 L682.8 319 L683.2 316.9 L684.5 315.2 L681.7 313.8 L680.3 312.7 L678.7 312 L677.3 310.9 L675.9 312.7 L677.3 310.9 L676.1 309.6 L674.9 308.6 L674.2 307 L673 305.9 L671.3 305.3 L670.4 303.9 L668.5 303 L666.5 302.4 L664.8 301.1 L662.8 301.3 L661.4 303 L659.4 302.9 L657.7 303.9 L657.8 305.7 L657.5 307.5 L658 309.4 L657.6 311.2 L658.9 313.1 L661.6 313.2 L658.9 313.1 L656.6 314.8 L657 316.6 L657.3 318.4 L657.3 320.3 L657.1 322.1 L656.6 323.9 L656.7 325.7 L656.4 327.5 L656.3 329.3 L656 331.5 L654.9 333.5 L653.1 333.8 L651.6 334.9 L650.3 336.4 L648.5 336.8 L646.5 336.9 L645.5 338.7 L643.7 339.2"/>
<path d="M512.5 362.1 L513.7 360.1 L515 358.3 L516.3 357.1 L516.9 355.3 L518.3 354.2 L519.9 352.7 L521.7 351.3 L523.3 350.9 L524.5 349.7 L525.8 348.8 L526.8 347.2 L528.8 347.1 L530 345.8 L530.1 343.5 L531.7 341.7 L531.9 339.9 L533.5 339 L534.2 337.5 L536.7 335.8 L538.4 335.8 L540 335.9 L541.7 336 L543.4 336.1 L545 336.3 L546.7 335.8 L548.1 336.9 L549.2 338.3 L550.3 339.7 L551.6 341 L552.5 342.5 L554 341.5 L555.7 341 L557.5 340.8 L558.7 342.6 L560 344.2 L561.1 345.6 L561.7 347.3 L563.3 348.3 L564.1 350.4 L564.9 352.5 L566.5 353.2 L567.7 354.5"/>
<path d="M512.5 362.1 L514.2 361.6 L516.3 361.8 L517.5 360 L519.7 359.7 L521.7 358.8 L523.4 358.7 L525 358.3 L526.7 359.6 L528.2 358.7 L530 358.3 L531.2 356.9 L533 356.3 L534.2 355 L536.3 354.4 L537.5 352.5 L539.2 350 L541.7 349.6 L540.3 351.2 L539.4 353.2 L538.3 355 L540 355.2 L541.7 355.8 L543 356.8 L544.1 358 L545.8 358.3 L548 357.9 L550 357.1 L551.5 356.1 L553.6 356.2 L555 355 L556.8 354.9 L558.2 353.5 L560 353.3 L561.8 353.4 L563.2 352.3 L564.9 352.1 L566.7 352.8 L567.7 354.5"/>
<path d="M521.7 359.2 L523.6 360.3 L525 362.1 L526.6 362.6 L528.2 363.4 L530 363.3 L531.7 363.6 L533.5 363.4 L533.1 365.2 L533.5 363.4 L535.1 364.1 L536.7 364.6 L538.5 365.4 L540.6 365.3 L542.5 365.8 L543.7 367.9 L545.8 369.2 L545.6 371.4 L546.7 373.3 L547.4 374.9 L547.5 376.7 L545.8 379.2 L547.6 379.9 L548.3 381.7 L548.2 383.3 L548 385 L548.2 386.6 L549.3 388.3 L548.3 389.9 L547.8 391.8 L546.1 391.9 L547.8 391.8 L548.4 393.5 L548.7 395.3 L550.1 395.3 L551.1 397.1 L552 399 L552.9 400.9 L553.4 402.9 L554.3 404.7 L555.6 406.4 L557 406.4 L558.6 405.2 L557.3 403.9 L558.6 405.2 L559.7 403.5 L561.2 402.3 L560.9 400.5 L561.8 398.8 L562.4 397.1 L562.4 395.3 L562.2 393.5 L562.3 391.7 L562.2 389.9 L564.7 389.4 L562.2 389.9 L561 388.3 L560.2 386.5 L559.6 384.7 L559.3 382.7 L558.4 381 L557.9 379.3 L557.5 377.6 L560.6 376.7 L557.5 377.6 L557 375.9 L557.8 374.3 L556.8 372.4 L557.4 370.8 L557.9 369.1 L558 367.4 L557.2 365.7 L557.9 363.9 L557 362.3 L558.8 361.1 L560.8 360.3 L562.6 360.3 L564.3 359.8 L566 359.7 L567.7 359.3 L569.5 359.7 L570.9 361.2 L572.7 361.7 L574.5 362.3 L575.8 363.7 L575.9 365.8 L577.4 367.1 L577.9 369 L578.2 371 L578.4 373 L577.2 374.4 L577.2 376.3 L576.4 377.8 L578.4 379.8 L579.1 378.3 L577.5 377.1 L579.1 378.3 L579.6 376.7 L581.3 375.9 L584.2 374.9 L585 376.3 L583.5 377.5 L585 376.3 L586 377.6 L587.1 378.8 L588.6 380.1 L589.1 381.8 L589.1 383.7 L589 385.7 L588.5 387.6 L588.1 389.5 L587.8 391.1 L587.6 392.8 L587.1 394.4 L586.6 396.3 L586.2 398.3"/>
<path d="M550 365 L551.4 363.4 L553.3 362.5 L554.9 361.5 L556.5 360.6 L558.3 360 L559.9 359.7 L561.6 359.9 L563.2 358.7 L564.9 359.2"/>
<path d="M550 365 L551.3 366.9 L551.7 369.2 L550.7 371.2 L550 373.3 L549.3 374.9 L549.7 376.7 L549.2 378.3"/>
<path d="M567.7 354.5 L570.1 353.8 L572.5 354.5 L574.2 354.2 L576 354.2 L577.6 353.4 L579.3 353 L580.9 352.8 L582.6 352.4 L584.2 353 L585.9 353 L587.5 352.7 L589.1 352 L590.4 353.5 L592.2 353.9 L594 354.5 L596 355.8 L597.8 357.4 L599.6 358.7 L601 355.9 L599.6 358.7 L601.7 359.3 L601.4 361.3 L600.8 363.2 L598.8 363 L596.9 362.3 L594 361.3 L591.8 360.9 L590.1 359.3 L590.5 361 L591 362.7 L592 364.2 L592.4 365.8 L592.5 367.5 L592 369.1 L592.5 370.7 L592.9 372.3 L593 374 L593.1 375.7 L592.4 377.2 L592 378.8 L591.2 380.8 L590.1 382.7 L589.8 384.3 L588.4 385.8 L589.1 387.6 L589.2 390 L589.1 392.4 L590.5 391.5 L590.9 389.6 L592.3 388.8 L593.7 387.9 L594.8 389 L593.7 387.9 L594.7 386.7 L595.9 385.6 L597 384.1 L598.5 383.3 L600.2 382.6 L601.7 381.7 L603.8 381.5 L605.6 380.4 L607.6 379.8 L608.8 378.6 L610.2 377.8 L612 377.8 L613.4 376.9 L616.3 376.9"/>
<path d="M572 355.8 L574 355.9 L575.9 356.7 L578 356.3 L580.1 356.4 L582.1 356.6 L584.2 356.4 L582.1 357 L580 357.6 L578 357.7 L576 357.6 L574 357.4 L572 355.8"/>
<path d="M586.2 398.3 L588.2 398.5 L590.1 398.2 L592 397.5 L594 397.3 L595.6 396.8 L596.8 395.7 L598.6 395.6 L599.8 394.4 L601.6 393.3 L603.2 392 L604.7 390.5 L605.9 389.2 L607.6 388.6 L607.9 386.4 L609.5 385.6 L610.7 384.2 L612.3 383.2 L613.4 381.7"/>
<path d="M608 373 L609 371.5 L610 370 L611.1 368.5 L612 367 L613.5 365.9 L615.6 365.6 L615.7 362.6 L618 362.5 L619.5 361.6 L620.8 360.5 L622.8 360.3 L624 359 L625.8 357.7 L628 357.5 L626.6 359 L626 361 L624.6 362.3 L623.1 363.4 L621.5 364.3 L620 365.5 L619 367.3 L617.2 368.1 L615 368.2 L614 370 L613.2 372.1 L610.9 372.5 L609.5 374"/>
<path d="M649 400 L650.4 401.8 L648.9 402.2 L650.4 401.8 L649.5 404.3 L651 406 L650.7 408 L648.6 407.5 L650.7 408 L650.7 410.2 L654 411 L650.7 410.2 L649.5 412 L650.3 413.4 L648.9 414 L650.3 413.4 L650.9 415 L653.1 414 L650.9 415 L652.5 416 L652 418 L652.4 420.2 L651.7 422.2 L649.4 421.6 L651.7 422.2 L650.5 424 L650.4 425.8 L651 427.3 L653.9 426.1 L651 427.3 L652.6 428.4 L653 430 L654.6 431.3 L652.8 432.4 L654.6 431.3 L655.1 433.3 L657.6 431.8 L655.1 433.3 L656 435" style="stroke-width:2.0"/>
<path d="M654 401 L656.4 402.4 L655.6 404.9 L653.9 405.5 L655.6 404.9 L656 407 L654.8 408.6 L655.3 410.5 L652.6 410.1 L655.3 410.5 L655.9 412.3 L657.6 412.6 L655.9 412.3 L655 414 L657 414.9 L655.6 417.3 L655.1 419.3 L657.5 420 L657.5 421.8 L659.5 422.3 L657.5 421.8 L657.6 423.7 L654.8 423.1 L657.6 423.7 L657.6 425.5 L656.1 425.2 L657.6 425.5 L656 427 L657.5 428.7 L660.6 427.7 L657.5 428.7 L657.4 431 L660.4 430 L657.4 431 L658 433" style="stroke-width:1.7"/>
<path d="M660.7 409.5 L659.8 411.2 L663.1 412 L659.8 411.2 L658.9 412.9 L659.5 415 L658.9 417 L658.2 418.9 L660.4 419.3 L658.2 418.9 L658.5 421 L658.8 422.8 L659.1 424.6 L657.5 426" style="stroke-width:1.5"/>
<path d="M666 433 L667.5 434.4 L668.9 435.7 L668.5 438 L670.5 440.4 L673.2 440.8 L670.5 440.4 L666 441.7 L663.8 441.3 L666 441.7 L667.5 444 L666.5 445.7 L665.2 444.9 L666.5 445.7 L665.1 447.1 L664.5 449 L662.2 448.8 L660.9 446.9 L662.2 448.8 L662.3 452.2 L660 452" style="stroke-width:1.8"/>
<path d="M659 438 L659.7 439.9 L662.1 439.4 L663 441 L662.4 442.7 L660.5 443.9 L661 446 L659.8 447.8 L661.1 449.1 L659.8 447.8 L658 449" style="stroke-width:1.6"/>
<path d="M646 401 L648 403 L647.2 404.6 L646.6 406.2 L647 408" style="stroke-width:1.4"/>
<path d="M508 171.8 L507.8 173.6 L505.9 173.8 L507.8 173.6 L508.5 175.4 L505.4 175.7 L508.5 175.4 L508 177.3 L511.4 176.9 L508 177.3 L508.4 179 L508.9 180.8 L507.2 182.3 L509.7 183.2 L507.2 182.3 L508 184.6 L506.3 186.1 L506.1 188.1 L504.1 187.6 L503.1 189.3 L502.6 192 L500.5 191.4 L498.9 191.7 L498.3 193.3 L496.8 194.2 L497.7 196.8 L495.4 195.2 L497.7 196.8 L495.3 197.1 L496.1 198.9 L497.1 200.7 L495.7 201.7 L494 200 L495.7 201.7 L495.2 203.6 L493.5 204.3 L492.9 205.8 L492.3 207.3 L490.7 208.4 L491.3 210.5 L489.9 211.6 L489.8 213.6 L489 215.3 L488.1 217 L487.3 218.8 L486.9 220.9 L485.4 222.4 L484.6 224.1 L485.2 226.2 L487 226.6 L485.2 226.2 L484.1 227.8 L483.6 229.6 L484 231.4 L483.1 233.2 L484.7 233.2 L483.1 233.2 L482.7 235.1 L483.6 236.9 L482.3 238.5 L482.6 240.4 L485.9 241 L482.6 240.4 L482.7 242.3 L483 244.2 L483.4 246.1 L484.5 247.7 L486.5 247.4 L487.8 249.8 L489.9 249 L491.7 249.5 L492.7 251.2 L493.4 252.9 L493.5 254.9 L495.6 255.5 L493.2 257 L495.6 255.5 L496.2 257 L495.7 259.3 L497.1 260.4 L499 261.2 L500.9 261.9 L502.6 260.4 L502.3 257.8 L502.6 260.4 L504.3 259.4 L504 256.8 L504.3 259.4 L506.1 259.5 L507.9 260.1 L509.8 260.3 L511.5 261.3 L513.3 261.9 L515.2 262.2 L516.4 263.5 L518 264.3 L519.1 265.9 L517.8 268 L519.1 265.9 L521.2 265.8 L522.4 267.2 L523.4 265.6 L522.4 267.2 L524.2 267.6 L525.5 268.8 L526.5 266.3 L525.5 268.8 L527.3 268.7 L526.2 271.4 L527.3 268.7 L528.8 269.2 L527.7 272.2 L528.8 269.2 L529.8 271.2 L531.9 270.2 L533.3 271.2 L535.1 272 L536.9 273 L538.7 273.9 L540.5 273.1 L542.5 273.1 L544.5 273 L545.9 271.2 L547.5 269.8 L549.8 271.4 L550.4 273.9 L549.8 271.4 L551.1 269.1 L553.1 269.4 L552.9 271.3 L554 272.6 L554.7 274 L555.9 275.3 L556.8 276.6 L557.6 278 L558.1 279.6 L558.9 281 L558.4 283 L559.5 284.3 L556.5 285.5 L559.5 284.3 L560.4 285.7 L562.3 286.5 L563.5 288 L565.7 285.8 L563.5 288 L564.3 289.9 L565.8 288.4 L564.3 289.9 L565.8 291.1 L567.4 292.2 L568.9 293.4 L568.8 296.2 L571.2 296.5 L573.1 296.8 L574.5 298 L576 299 L578.1 299 L580 298 L581.4 297 L582.6 295.8 L583.9 294.7 L583.2 293.2 L585.2 292.4 L583.2 293.2 L583.3 291.5 L586.2 290.3 L583.3 291.5 L582.1 290.2 L581.7 288.6 L581.3 287 L583.3 286.2 L581.3 287 L580.2 285.7 L578 284.9 L578.1 282.9 L579 280.2 L577 279.4 L574.3 281 L577 279.4 L575.7 278.1 L574.8 276.6 L573.1 275.8 L573 273.9 L572.5 272.3 L571.5 271 L570.8 269.5 L568.1 271.3 L570.8 269.5 L569.4 268.5 L569.9 266.8 L571.2 265.7 L573.6 267.7 L571.2 265.7 L572.4 264.5 L573.2 263.1 L571.9 261.9 L573.2 263.1 L574.8 262.2 L576 260.9 L578.9 262.1 L576 260.9 L575 258.8 L577.4 258 L579.8 258.9 L577.4 258 L578 256.5 L578.2 254.8 L578.4 253.1 L579.9 251.5 L578.6 249.5 L577.8 247.5 L579.3 245.9 L578.6 244 L576.8 242.6 L575.1 243.5 L576.8 242.6 L576.6 240.5 L574.5 239.9 L573.7 238 L572.6 236.4 L571.2 235.1 L570.2 233.5 L567.7 234.9 L567.6 231.5 L565.3 232.4 L564 231.4 L562.9 230.1 L564.9 228.1 L562.9 230.1 L562.3 228.3 L560.4 227.8 L561.5 226.1 L560.6 224.2 L561.3 222.4 L561.3 220.6 L561 218.6 L560 217 L558.9 215.4 L558.6 213.4 L557.9 211.9 L557.1 210.5 L554.5 211.8 L557.1 210.5 L556.7 208.8 L555.3 207.7 L554.9 206.1 L553.2 204.7 L552.5 202.8 L552.2 200.7 L553.2 198.7 L551.1 197.2 L553.8 196.7 L551.1 197.2 L551.3 195.3 L553 194.3 L554.6 193.1 L556.8 193.5 L558.5 193.4 L559.7 192.1 L561.3 191.8 L563.2 192 L564.8 191.7 L565.8 189.9 L567.6 190.8 L569.4 189.3 L569.4 186.8 L569.4 189.3 L571.2 189.7 L573 189.9 L574.7 191 L576.8 191.3 L578.4 192.6 L580.2 193.2 L582 193.3 L583.8 193.8 L584.1 191.7 L583.8 193.8 L585.7 193.5 L586.8 194.7 L588.8 191.8 L586.8 194.7 L588.8 194.7 L587.1 197.2 L588.8 194.7 L589.6 196.4 L591.1 197.1 L592.7 198.6 L592.4 200.7 L589.1 201.8 L592.4 200.7 L592.9 202.5 L594.6 203.2 L593 204.8 L594.6 203.2 L594.3 205.9 L596.5 206.1 L597.9 208.1 L600.1 208.9 L601.9 209.8 L603.7 210.6 L605.5 211.6 L605.7 209.3 L607.8 209 L605.7 206.9 L607.8 209 L609.2 208 L610.2 206.7 L611 205.3 L612.1 204 L612.8 202.5 L614.2 200.9 L613.8 199 L614.4 197.2 L613.4 195.1 L615.1 195.5 L613.4 195.1 L614.6 193.5 L613.4 191.9 L616.8 191 L613.4 191.9 L614.6 189.7 L612.7 188.2 L612.8 186.3 L614.6 186.3 L616 187.1 L617 188.6 L616.1 190.4 L617 188.6 L618.1 190.1 L620 189.9 L620.9 191.5 L618.6 193.7 L620.9 191.5 L622.7 192.3 L623.6 193.9 L625 195 L626.6 196 L627.9 197.6 L630 197.5 L631.6 198.5 L633.8 198.3 L634.7 200.5 L636.5 201.1 L638.1 202.1 L637.2 203.9 L638.1 202.1 L640 202.5 L642 202.6 L643.5 203.9 L642.2 206.4 L643.5 203.9 L645.1 204.7 L647 205.1 L645.5 208.1 L647 205.1 L648.7 206 L650 207.5 L651.7 207.8 L653.5 207.6 L655 208.7 L656.7 208.9 L658.2 210 L657.8 211.5 L658.2 210 L660 210 L661.6 209.4 L663 207.8 L665.1 209.3 L666.4 207.3 L668.5 208.4 L670 207.5 L671.9 207 L673.8 207.1 L675.6 208 L677.5 207.5 L679.2 208.1 L679.2 204.6 L679.2 208.1 L680.8 208.7 L682.5 207.6 L682.5 210 L682.5 207.6 L684.2 208.3 L685.8 205.6 L687.5 207.5 L688.6 209.1 L690.3 209.8 L692.1 210.4 L692.9 212.3 L695 212.5 L694.7 214.5 L696.7 215.4 L696.6 217.3 L698.4 218.3 L698.8 220 L697.5 221.1 L696.2 222.1 L695.2 223.4 L693.4 224 L692.6 225.5 L692.5 227.5 L692 229.2 L693.1 231.2 L690 232.2 L692.3 232.8 L690 232.2 L691.2 234.3 L690 235.7 L691.5 236.1 L690 235.7 L690 237.5 L689.2 239 L688.9 240.7 L688 242.1 L688.5 244.1 L687.5 245.6 L686 246.8 L686.4 248.8 L684.9 248.2 L686.4 248.8 L685 250 L683.8 251.4 L685.7 254 L683.8 251.4 L682 251.9 L680.6 253.1 L679.6 254.6 L677.9 255.4 L676.7 256.9 L675 257.5 L673.2 258 L671.3 258.5 L670.1 260.3 L668.1 260.5 L666.7 261.7 L665 262.5 L663.3 263.3 L662.8 265.3 L661.9 266.9 L660.1 267.6 L659 269 L657.5 270 L657.3 271.7 L655.6 271.5 L657.3 271.7 L658 273.4 L658.6 275.2 L657 276.7 L658.7 276.9 L657 276.7 L657.5 278.5 L656.2 280 L655.8 281.7 L654.9 283.3 L654.3 285 L655.6 287.3 L652.1 288 L652.5 290 L653 291.9 L651.3 293.2 L650.4 294.8 L649.5 296.3 L650.7 298.4 L650 300 L649.7 301.6 L650.9 303.4 L649.6 305 L650.7 306.8 L650.8 308.5 L653.6 308.7 L650.8 308.5 L649 310 L650.2 311.8 L648.7 313.3 L647 313.2 L648.7 313.3 L648.8 315" style="stroke-width:1.3"/>
<path d="M595.9 335 L596.1 337.3 L597.8 338.9 L599.5 339.5 L600.7 341 L602.3 341.7 L603.7 342.8 L605.6 342.1 L607.5 341.9 L609.5 341.8 L611.5 341.8 L613.4 342.3 L615.3 342.7 L617.3 342.8 L619.2 343.5 L621.1 343.4 L623 344 L625 343.8 L626.5 344.6 L628.2 345.1 L629.8 345.6 L631.5 346 L632.9 347"/>
<path d="M632.9 347 L633.3 345.1 L633.3 343.1 L635 341.7 L636 340 L636 338 L637.4 336.6 L638.5 335.1 L638.2 332.7 L640.3 331.8 L641 330 L640.9 327.7 L642.9 326.7 L643.6 325 L646 324.2 L646 322 L647 320.4 L647.4 318.5 L648.1 316.7 L649.3 315.2 L649.5 313.4 L649.6 311.6 L651.3 310.1 L650.7 308.2 L650.7 306.4 L650.9 304.7 L652.3 303.3 L652.3 301.5 L653.5 300.1 L653.5 298.3 L654.4 296.7 L653.9 294.7 L655.3 293.4 L654.1 291.1 L656.3 290 L657.1 288.4 L658 286.8 L659.5 285.5 L659.5 283.5 L660.6 282 L661.9 281 L663.2 279.8 L665 280 L666.6 279.4 L667.9 278 L669.6 277.4 L671.2 276.8 L672.9 276.2 L674 274.6 L675.3 277.2 L674 274.6 L676.1 274.8 L677.5 273.8"/>
<path d="M698.8 220 L698.5 221.9 L695.9 221.9 L695.2 223.4 L694 222.4 L695.2 223.4 L695.1 225.4 L692.8 225.6 L692.5 227.5 L691.4 229 L691.2 230.7 L689.8 232.1 L690.2 234 L690.8 235.9 L690 237.5 L688.6 238.7 L689.5 240.9 L688.4 242.3 L687.1 243.6 L686.4 245.1 L689.1 246.2 L686.4 245.1 L686 246.8 L685.8 248.5 L685 250 L683.6 251.1 L681.9 251.8 L681 253.6 L679.5 254.6 L678.2 255.8 L675.9 255.7 L675 257.5 L672.6 256.9 L671.6 259.1 L670 260 L668.9 262 L667 262.3 L665 262.5 L663.7 263.8 L662.2 265 L660.4 265.9 L660 268 L660.2 269.7 L660.1 271.4 L659.8 273.1 L658.9 274.6 L657.7 276 L658.3 277.8 L657.1 279.3 L656.7 280.9 L657 282.7 L659.6 283.2 L657 282.7 L656.3 284.2 L655.3 285.7 L654.2 287.2 L654.3 289.2 L657 290.3 L654.3 289.2 L652.5 290.4 L655 291.5 L652.5 290.4 L652.3 292.2 L652.1 294.1 L650.9 295.8 L649.9 297.7 L649.3 299.7 L647.5 299.6 L648 302.4 L647.5 299.6 L645.8 300.2 L643.9 300 L642.3 301.1"/>
<path d="M684.5 315.2 L685.9 313.8 L687.3 312.4 L687.8 310.8 L689.7 309.8 L690.1 308.1 L687.7 306.7 L690.1 308.1 L691.9 307.2 L691.5 305 L691.9 302.9 L693 301 L692.6 299.2 L690.9 299.9 L692.6 299.2 L690.4 298.1 L690 296.2 L690.1 294.1 L688.3 293.1 L686.3 292.3 L684.5 291.3 L683.7 289.5 L682.6 288 L682.3 286 L681.7 284.2 L679.9 285.3 L678.1 286.4 L676.1 287 L674.6 288.4 L673.9 286.6 L674.6 288.4 L672.4 288.2 L670.6 288.8 L669 289.9"/>
<path d="M695.8 295.5 L697.4 294.1 L699.2 293 L701.4 292.7 L703.2 291.9 L703.6 290.1 L704.2 288.5 L705.3 287.1 L705.8 285.4 L707 284.2 L709.4 284.4 L711.1 282.9 L712.4 285.6 L711.1 282.9 L712.7 281.4"/>
<path d="M560 190 L561.7 190.2 L563.3 190.2 L565 190.5 L566.7 190.5 L568.3 189.1 L570 190 L571.5 191.1 L573.2 191.3 L572.5 194.1 L573.2 191.3 L575 191.3 L576.5 192.3 L578 193.3 L580 192.5 L581.6 193.2 L583.5 192.6 L584.9 194.2 L586.3 195.5 L588.2 195.2 L590 195"/>
<path d="M342.2 107.8 L340.9 106.2 L340.5 104.1 L340 102.2 L338.6 101.2 L338.3 99.5 L338.1 97.7 L336.7 96.7 L336 95 L335 93.5 L333.3 92.5 L332.2 91.1 L331.3 89.8 L333.9 88.2 L331.3 89.8 L329.9 88.8 L329.4 87.2 L328.9 85.6 L327.5 84.4 L327.4 82.6 L328.1 80.4 L325.9 79.5 L325.6 77.8 L324.9 75.9 L323.9 74.2 L323.3 72.2 L322.1 70.9 L323.3 68.8 L321.3 67.7 L321.4 66 L321.1 64.4 L321.6 62.4 L320 61.1 L318.9 59.6 L317.8 58.2 L315.6 58.1 L314.4 56.7 L312.5 56.4 L311 54.6 L308.9 55 L307.4 54.3 L306.1 53.4 L304.6 52.6 L303.3 51.7 L301.6 52.5 L300 51.2 L298.4 50.2 L298.4 53.2 L298.4 50.2 L296.7 51.7 L295 51.2 L293.6 49.8 L291.7 50.4 L290 50 L288.7 49 L290.2 47.3 L288.7 49 L287.6 47.8 L286.2 49.3 L287.6 47.8 L286.7 46.3 L285.2 45.5 L283.9 44.4 L282.8 46.5 L281 48 L281.6 49.8 L285 49.8 L281.6 49.8 L280.8 51.6 L283.9 51.6 L280.8 51.6 L279.6 53.4 L281 55.2 L280.5 57.2 L278.3 58.2 L276.2 57.2 L278.3 58.2 L278.7 60.6 L277.5 62.2 L276.5 64.1 L278.3 65.3 L276.5 64.1 L275.1 65.7 L272.8 65.2 L273.2 62.9 L272.6 61.3 L271.8 59.8 L270.4 58.7 L269.7 57.1 L268 56.4 L266.5 55.5 L265.7 54 L264.3 53 L263.1 51.8 L261.8 50.6 L260.1 53.5 L261.8 50.6 L259.9 50.5 L258.4 52 L256.3 51.6 L255.2 53.2 L254.6 55.2 L253.9 57 L252.8 58.7 L254.3 60.4 L256 62 L257.9 63 L258.3 61.3 L257.9 63 L260 63 L259.5 64.8 L260 63 L262 63.5 L263.9 65.4 L266.1 62.2 L268 64 L268.7 66 L270.5 67 L271.3 68.9 L274.2 68.2 L271.3 68.9 L271.5 71 L269.7 72.2 L268.9 74.2 L268 76 L266.4 76.7 L264.6 77.1 L263.2 78.1 L261.1 78 L263.2 75.2 L261.1 78 L260.8 75.5 L258.3 75.9 L257.6 73.9 L255.5 74.6 L254.5 76.4 L253.4 78.1 L252.5 80 L250.6 80.9 L250.4 78.9 L252.1 77.7 L250.4 78.9 L249 77.7 L246.8 77.2 L244.8 78.7 L246.8 77.2 L246.5 75.3 L244.4 74.9 L245.7 72.3 L244.4 74.9 L242.9 73.2 L241.8 75.3 L242.9 73.2 L240.9 72.5 L239.2 73.1 L237.4 71.9 L237.4 74.3 L237.4 71.9 L235.7 73.1 L233.9 72.5 L231.9 72.3 L230.2 73.5 L228.4 73.9 L226.3 74 L225.5 75.9 L223.4 73.1 L225.5 75.9 L223.9 76.6 L225.8 79.2 L223.9 76.6 L222.8 78.1 L221.7 79.8 L219.9 80.8 L218.6 82.3 L218.5 84.2 L218.7 86.2 L217.3 87.8 L218.1 89.4 L219.2 90.7 L217.7 91.8 L219.2 90.7 L221 91.5 L221.4 93.4 L219.5 94.3 L219 96.5 L217.3 97.6 L216 99.1 L217.7 100.9 L216 99.1 L214.5 100.3 L213.1 101.7 L214 103.1 L215.3 104.3 L215.9 105.9 L217.8 106.6 L218 108.5 L215.5 110.1 L218 108.5 L218.6 110.1 L219.6 111.8 L219.7 113.7 L220 115.6 L221.6 116.8 L223.4 115 L221.6 116.8 L222.8 118.4 L224.7 118.6 L225.8 120 L227 121.2 L225.5 122.5 L223.6 121.4 L222 122.3 L220.4 122.8 L220.9 125.9 L220.4 122.8 L218.6 122.6 L216.7 121 L215.4 123 L213.8 123.3 L213.4 120.9 L213.8 123.3 L212 122.3 L210.4 123.1 L208.9 124 L207.7 122 L205.7 122.5 L203.9 122.4 L202.8 120 L200.6 121.2 L198.8 120.5 L196.6 121.4 L197 119.7 L196.6 121.4 L195 119.8" style="stroke-width:1.3"/>
<path d="M195 126.8 L196.9 126.7 L197.9 123.4 L196.9 126.7 L198.4 127.7 L197.5 130.4 L198.4 127.7 L199.7 129.3 L201.7 128.9 L203.3 129.5 L205 130.1 L203.9 133.3 L205 130.1 L206.6 130.9 L208.4 130.9 L207.5 133.8 L208.4 130.9 L210 131.7 L211.7 132.3 L213.5 132.1 L215.4 132 L214.7 135.3 L215.4 132 L216.8 133.8 L218.6 133.7 L220.2 134.5 L221.8 135 L222.2 132.8 L221.8 135 L223.5 135.5 L225.4 134.5 L225 137 L225.4 134.5 L227 135.1 L228.9 135.7 L230.6 135.3 L230.1 132.9 L230.6 135.3 L232.1 133.7 L233.9 133.7 L235.7 132.7 L236.7 130.9 L238.6 130.6 L240.4 130.3 L242.3 130.9 L244.4 130.3 L246.2 131.3 L245.3 134.6 L246.2 131.3 L247.9 132.3 L249.7 132.2 L251.4 131.9 L253 130.6 L254.8 130.9 L256.3 132.1 L258.4 132 L260.3 132.4 L261.6 129.2 L260.3 132.4 L261.8 133.7 L263.6 134.7 L265.7 135.1 L264.5 137.4 L265.7 135.1 L267.3 136.5 L268.7 138.4 L270.4 139.6 L272.9 139.3 L276 140 L277.4 141.8 L278.5 143.6 L278 146 L277.2 148.1 L274.8 146.9 L277.2 148.1 L276 150 L277.5 151 L277.5 153 L275.5 154.6 L277.5 153 L279 154 L279.7 156 L277.2 156.8 L279.7 156 L281 157.8 L281 160 L281.2 162.2 L281.7 164.2 L283 166 L282.7 168 L282.5 170" style="stroke-width:1.3"/>
<path d="M247.9 137.9 L249.1 139.2 L250.6 140 L251.9 141.2 L253.4 142.1 L255.2 143.2 L256.8 144.5 L259 144.8 L261.1 145.2 L261.7 147.7 L261.1 145.2 L262.7 144.1 L263.3 146.2 L262.7 144.1 L264.5 143.4 L266.4 144.3 L268.2 142.7 L270.1 143.4 L271.5 142.4 L271.2 140.2 L268.6 138.4 L271.2 140.2 L272.9 139.3"/>
<path d="M134.2 72.7 L134.1 74.5 L136.5 73.6 L134.1 74.5 L135 75.9 L134.9 77.6 L135.7 79 L133.6 79.8 L135.7 79 L137 80.3 L137.4 82.7 L138.7 80.6 L137.4 82.7 L139.8 82 L141 83 L142.1 84.4 L141.2 85.9 L142.1 84.4 L143.9 84.5 L144.7 86.2 L146.5 84.7 L144.7 86.2 L146.3 87.3 L148 88.2 L146.6 89.4 L148 88.2 L148.8 89.9 L149.8 91.4 L150.9 92.9 L153.2 92.9 L154.1 94.6 L155.8 92.4 L154.1 94.6 L155.3 95.9 L156.7 97 L157.8 98.4 L158.7 100.7 L159.8 98.6 L158.7 100.7 L161.2 100 L160.5 101.4 L161.2 100 L163 100.5 L162.3 102 L163 100.5 L165 100.8 L163.5 103.8 L165 100.8 L166.2 102.6 L168 103.1 L169.6 100.9 L168 103.1 L169.7 103.7 L168.1 105.8 L169.7 103.7 L170.5 105.6 L172.1 103.4 L170.5 105.6 L171.7 106.8 L172.7 108.4 L174.7 105.6 L172.7 108.4 L175.3 107.7 L177.4 105 L175.3 107.7 L177.3 107.9 L177.3 110.9 L179.7 110.3 L178.2 113.3 L179.7 110.3 L180.8 112.2 L182.3 109.2 L180.8 112.2 L182.2 113.5 L183 112 L182.2 113.5 L184.1 114 L185.6 115.1 L187.6 115.1 L188.8 112.1 L187.6 115.1 L188.1 119.1 L188.7 117.6 L188.1 119.1 L190.6 117.8 L192.6 117.9 L195 119.8" style="stroke-width:1.7"/>
<path d="M216.4 0 L217.2 2.4 L216.4 4.7 L216.2 6.8 L215.3 8.8 L217.3 8.3 L219.3 8.2 L218.9 11.6 L219.3 8.2 L221.1 9.4 L222.2 7.7 L224 7 L225.4 5.7 L227 4.7 L229.2 4.4 L230.3 7.3 L229.2 4.4 L230.9 3 L232.9 2.3 L234 0"/>
<path d="M236.4 0 L237.6 1.4 L237.3 3.1 L237.6 4.7 L238.8 5.9 L240.7 6.1 L242 7.2 L243.4 8.2 L245.4 8.5 L245.4 10.6 L245.4 8.5 L247.3 8.5 L249.3 8.2 L248.1 9.9 L246.9 11.7 L247.6 13.5 L246.2 15.2 L242.8 15.2 L246.2 15.2 L247.6 17 L246.9 18.8 L246.4 20.5 L245 21.6 L243.7 22.8 L243.4 24.6 L243.4 26.4 L242.1 27.8 L242.9 29.8 L242 31.4 L241.1 32.9 L241.9 34.8 L243.4 36.4 L245.2 36.4 L246.8 35 L248.8 36.1 L250.5 35.2 L251.1 37 L252.5 37.9 L254.2 38.5 L255.2 39.9 L256.7 40.8 L258.4 41.4 L259.9 42.3 L261 40.7 L263 41.9 L261 40.7 L262 39.1 L264 38 L264.4 36.1 L264.6 34 L263.7 32.4 L264.3 30.7 L263.7 29.1 L263.2 27.5 L263.4 25.8 L262.1 24.1 L259.9 24.1 L261.2 23.1 L263 22.9 L264.2 21.8 L265 23.4 L264.2 21.8 L265.7 21.1 L267.4 20.1 L268.6 18.7 L269.6 17 L267.7 15.5 L269.6 17 L270.4 15.3 L271.4 13.9 L272.5 12.6 L272.6 10.9 L273 9.2 L271.1 8.4 L273 9.2 L273.8 7.7 L273.6 5.8 L275.1 4.7 L276.4 3.4 L276.1 1.3 L277.5 0"/>
<path d="M249.3 7 L250.7 5.8 L252.4 6 L253.9 5.6 L255.9 6.7 L257.1 5.1 L258.7 4.7 L260.2 3.3 L262 4.1 L263.5 3.3 L265.3 3.8 L266.9 3.5 L268.6 4 L268.1 0.6 L268.6 4 L270.2 3.1 L270.5 4.9 L270.2 3.1 L271.9 3.6 L271.6 1 L271.9 3.6 L273.5 3 L275.1 2.3"/>
<path d="M293.9 0 L295.1 1.5 L295.1 3.5 L297.4 5.3 L300 3.5"/>
<path d="M693 305.4 L693.1 307 L693.3 308.6 L692.5 310.2 L693.8 311.8 L693.4 313.4 L693.1 315 L693 316.6 L694 317.9 L694 319.8 L693.7 321.9 L696.8 322 L699 320.7 L696.8 322 L697.2 323.7 L699.2 323.6 L699.7 321.4 L701.4 320.8 L701.1 318.9 L703.2 317.8 L702.1 315.7 L699.4 314.9 L702.1 315.7 L702.6 314.1 L704.7 312.9 L707.1 313.6 L704.7 312.9 L704.2 311 L705.5 309.3 L706.2 307.3 L707 305.4 L708.2 304.3 L709.1 303 L710.8 302.4 L712 301.3 L710.6 299.9 L712 301.3 L712.7 299.7 L713.7 298.4 L715.1 297.3 L715.4 295.6 L714 294.8 L715.4 295.6 L715.7 293.9 L714.3 293 L715.7 293.9 L716.9 292.7 L717.1 290.7 L714.1 289.6 L717.1 290.7 L718.3 289.1 L719.9 289.8 L718.3 289.1 L719.2 287.4 L717 286.6 L719.2 287.4 L719.7 285.6 L719.4 288.1 L718.4 286.8 L719.4 288.1 L717 288 L715.4 288.8 L714 290 L712.5 290.8 L714.9 293.2 L712.5 290.8 L710.7 291.3 L710.3 293.1 L709.6 294.7 L708.8 296.2 L706.1 295.8 L706 298 L704.4 298.7 L702.8 296.5 L704.4 298.7 L702.7 299.2 L702.2 301.3 L700.3 301.6 L699.4 303.1 L698 304 L696.4 304.8 L694.6 304.5 L693 305.4Z" style="stroke-width:1.3"/>
<path d="M700 220 L701.3 221.4 L702.2 223 L700.2 224 L702.2 223 L702.8 224.8 L703.6 226.5 L704.7 228.1 L705 230 L704.2 231.9 L706 233.3 L706.1 235 L705.5 236.8 L702.6 237.3 L705.5 236.8 L705.6 238.5 L705 240.3 L708.8 241.4 L710.8 241 L708.8 241.4 L707.3 243.3 L705.2 243.7 L707.3 243.3 L707.5 245 L709.4 246.4 L706.2 246.9 L709.4 246.4 L709.2 248.1 L706.3 248.6 L709.2 248.1 L708.3 250 L706.6 250.3 L708.3 250 L709.6 251.5 L709 253.3 L708.2 255.2 L708.2 256.9 L705.1 257.4 L708.2 256.9 L708.4 258.5 L710 260 L711.4 259.2 L712.1 257.5 L713.6 256.8 L715 256 L716.7 254.9 L718.6 254 L720 252.5 L721.9 252.2 L723.7 251.6 L725.1 250.2 L726.8 249.5 L727.8 247.3 L730 247.5 L731.4 246.1 L732.6 248.6 L731.4 246.1 L733.5 246.1 L735 245.1 L736.7 244.3 L738.6 243.9 L739.9 246.5 L738.6 243.9 L740 242.5 L741.8 241.6 L743.8 241.5 L745.4 239.8 L747.5 240 L746.3 238.6 L746.2 236.5 L744.5 235.5 L742.9 234.4 L740.7 235.9 L742.9 234.4 L742.5 232.5 L741.1 231.4 L739.4 230.6 L738.3 229.1 L736.5 228.5 L734.6 231.3 L736.5 228.5 L735 227.5 L733.6 226 L733 228.3 L733.6 226 L731.9 225.8 L730.1 225.9 L729.6 227.8 L730.1 225.9 L728.3 226.1 L726.7 225.1 L725 225 L723.2 225.5 L722.2 227.4 L719.5 226.6 L718.7 228.6 L717.5 230 L715.8 231 L713.6 230.8 L712.1 232.6 L710 232.5 L709.5 230.8 L708.3 229.6 L708.2 227.7 L707.2 226.3 L704.5 226 L704.6 223.9 L703.8 222.5 L702.2 220.8 L700.5 223.4 L702.2 220.8 L700 220Z" style="stroke-width:1.3"/>
<path d="M672.5 265 L674.4 264.6 L675.4 267.4 L674.4 264.6 L676.5 264.5 L677.4 267.2 L676.5 264.5 L678 262.7 L677.3 260.5 L678 262.7 L680 262.5 L681.5 260.4 L681.7 262.7 L681.5 260.4 L683.3 262.2 L684.8 260.4 L686.6 261.6 L688.2 260.8 L690 261.5 L687.7 261.4 L689.4 264.3 L687.7 261.4 L686.7 263.5 L685 264.5 L683.6 266.1 L681.6 265 L680 265.3 L678.5 266.4 L676.7 266.5 L675 266.5 L672.5 265Z" style="stroke-width:1.3"/>
<path d="M216 141 L217.9 139.3 L218.1 142.1 L217.9 139.3 L220 141.1 L222 140.5 L223.9 141.2 L225.8 142.5 L228 141.5 L229.7 142.3 L231.7 141.4 L232.3 138.7 L231.7 141.4 L233.7 140.7 L233.3 142.4 L233.7 140.7 L235 143 L233.6 144.5 L233 146.5 L231.2 146.2 L229.4 146.2 L227.6 145.9 L226 147.5 L224.4 146.2 L222.5 146.7 L222 149.2 L222.5 146.7 L220.6 146.9 L219 146 L217.7 144.5 L215.6 145.8 L217.7 144.5 L218.2 142 L216 141Z" style="stroke-width:1.3"/>
<path d="M212 75 L213.5 73.6 L214.9 75.9 L213.5 73.6 L215.5 73 L215.9 75.1 L217 77 L216.3 78.8 L214.5 79.5 L212 78 L212 75Z" style="stroke-width:1.3"/>
<path d="M235.2 43 L237.6 42.5 L237.8 44.3 L237.9 46.2 L240.7 46.1 L237.9 46.2 L237.8 48 L237.3 50 L237.5 52 L239.4 52.3 L237.5 52 L237 54 L236 56 L234.5 54.3 L234.5 52 L234.1 50.3 L234.1 48.6 L235 47 L235.5 45 L235.2 43Z" style="stroke-width:1.3"/>
<path d="M284 180 L282.9 182 L280.7 182.4 L282.9 182 L284.3 183.4 L283.9 185.2 L284.6 186.8 L286.9 188.1 L286 190 L286.8 191.6 L285.4 193.4 L288.5 193.1 L285.4 193.4 L286.8 195 L288.6 194.8 L286.8 195 L286.4 196.7 L283.8 197 L286.4 196.7 L287.3 198.3 L289.9 198 L287.3 198.3 L287 200 L286.8 201.7 L283.5 201.4 L286.8 201.7 L286.5 203.3 L285.1 204.9 L285.4 206.6 L286.6 208.3 L286.7 210 L285.5 211.6 L286.6 213.4 L286 215 L284.9 216.6 L284.1 218.2 L281.9 218.1 L284.1 218.2 L285.1 220 L284.3 221.6 L284.6 223.3 L284.6 224.9 L285.3 226.7 L285.4 228.4 L285 230 L284.3 231.6 L287 232 L284.3 231.6 L284.3 233.3 L281.9 233 L284.3 233.3 L284.3 235 L284.1 236.7 L282.7 238.2 L282.5 239.8 L282.8 241.6 L283.8 243.4 L283 245" style="stroke-width:1.6"/>
<path d="M288 183 L289.4 184.6 L288.1 186.7 L290.2 186.3 L288.1 186.7 L289 188.4 L286.2 189.1 L289 188.4 L288.3 190.5 L285.4 191.1 L288.3 190.5 L290 192 L290.7 193.5 L287.9 193.9 L290.7 193.5 L291.2 195.1 L293.9 194.8 L291.2 195.1 L290.7 196.8 L289.9 198.5 L291 200 L291.1 201.7 L287.8 201.5 L291.1 201.7 L289.9 203.3 L286.9 203.1 L289.9 203.3 L290.6 205 L290.8 206.7 L290.9 208.4 L291.9 210.1 L289.9 211.6 L291 213.4 L290 215 L289.7 216.7 L290.3 218.4 L289.9 220 L292.8 221.9 L289.5 223.3 L292.2 223.5 L289.5 223.3 L290.1 225.1 L290 226.7 L289.4 228.4 L289 230 L289.6 231.8 L292.2 232.1 L289.6 231.8 L288 233.3 L285 232.9 L288 233.3 L288.8 235.1 L291.6 235.4 L288.8 235.1 L289.1 236.8 L291.1 237.1 L289.1 236.8 L287.1 238.2 L287.6 240 L286.8 241.6 L285.4 243.1 L282 242.6 L285.4 243.1 L287 245 L285.2 246.7 L286.7 248.7 L285.1 248.5 L286.7 248.7 L287.5 250.6 L285.9 250.4 L287.5 250.6 L286.3 252.3 L289.1 252.6 L286.3 252.3 L285.2 254.1 L286 256" style="stroke-width:1.6"/>
<path d="M292 186 L292.6 187.8 L291 188.1 L292.6 187.8 L291.7 189.8 L291.9 191.7 L292.4 193.5 L294 195 L295.3 196.7 L292.2 196.7 L295.3 196.7 L295.7 198.3 L293.5 200 L292.1 201.7 L290.3 201.7 L292.1 201.7 L293.8 203.3 L290.7 203.3 L293.8 203.3 L294 205 L293.7 206.7 L293.1 208.4 L293 210.2 L290.1 209.8 L293 210.2 L293 212 L291.8 213.5 L293.2 215.3 L293.8 217 L296.2 217.2 L293.8 217 L293.6 218.6 L295.8 218.8 L293.6 218.6 L292.5 220.1 L292.4 221.8 L292.4 223.4 L292 225 L290.9 226.5 L288.3 226.3 L290.9 226.5 L292.1 228.3 L291.8 229.9 L292.4 231.6 L292.3 233.2 L291.5 234.8 L289.9 234.6 L291.5 234.8 L290.6 236.3 L291 238" style="stroke-width:1.6"/>
<path d="M296 190 L295.4 191.7 L297 193.1 L296.4 194.8 L295.6 196.5 L297 198 L296.6 199.8 L299.8 199.8 L296.6 199.8 L296.9 201.5 L294.4 201.5 L296.9 201.5 L294.7 203.2 L292.5 203.2 L294.7 203.2 L297 205 L297.3 206.7 L296.2 208.2 L297.6 209.9 L297.3 211.6 L295.5 211.4 L297.3 211.6 L296 213.1 L295.3 214.7 L297.1 216.4 L295 216.3 L297.1 216.4 L296 218 L295.8 219.7 L299.3 220 L295.8 219.7 L296.4 221.5 L295.9 223.3 L296.3 225.1 L295.8 226.8 L294.8 228.5 L296.3 230.3 L295 232" style="stroke-width:1.6"/>
<path d="M299 194 L300 195.7 L299 197.8 L296.7 198.3 L299 197.8 L299.2 199.6 L300.7 199.3 L299.2 199.6 L300.3 201.3 L301 203 L300.3 204.7 L297.7 204.3 L300.3 204.7 L302 206.7 L299.7 206.4 L302 206.7 L300.2 208.2 L300 210 L298.6 211.6 L296 211.4 L298.6 211.6 L299.7 213.4 L300.3 215.2 L298.6 216.8 L296 216.6 L298.6 216.8 L299.1 218.6 L297.5 220.1 L295.6 220 L297.5 220.1 L299 222" style="stroke-width:1.6"/>
<path d="M287 196 L288.4 197.3 L289.1 199.1 L291.6 197.6 L289.1 199.1 L290.5 200.5 L290.8 202.5 L292 204 L291.8 205.9 L290.4 207.2 L290.6 209.3 L289.2 208.6 L290.6 209.3 L288.9 210.4 L288 212 L288.8 213.7 L289.6 215.4 L287.2 217 L289.6 215.4 L290.5 217.1 L293.3 215.3 L290.5 217.1 L291.6 218.6 L293 220 L292.3 221.7 L290.9 223 L288.2 221.6 L290.9 223 L289.9 224.4 L291.8 225.4 L289.9 224.4 L290.8 226.9 L288.2 225.6 L290.8 226.9 L289 228 L289.7 229.7 L291.2 230.9 L292.2 232.4 L295 231 L292.2 232.4 L293.5 233.7 L292.2 234.4 L293.5 233.7 L293 236" style="stroke-width:1.6"/>
<path d="M285 205 L285.6 206.9 L287.6 204.9 L285.6 206.9 L287.2 207.8 L288.9 208.6 L291.1 206.4 L288.9 208.6 L290 210 L288.3 211.3 L289.5 213.7 L291.1 214.3 L289.5 213.7 L288.4 215.2 L287.7 216.8 L285.9 218 L286 220 L287.2 221.4 L289.5 219.8 L287.2 221.4 L288.2 222.9 L290 223.9 L290 226" style="stroke-width:1.6"/>
<path d="M279 250 L279.4 248 L281 246.7 L283.6 248.2 L281 246.7 L282 245 L282.9 246.6 L286.2 245.9 L282.9 246.6 L281.7 248.5 L285.1 247.8 L281.7 248.5 L283.2 250 L282.8 251.8 L280.1 252.3 L282.8 251.8 L281.7 253.7 L284 255 L284.3 257.2 L282.2 258.4 L282.9 260.7 L280 259.5 L282.9 260.7 L281 262 L277.9 261.1 L279.7 260.1 L277.9 261.1 L279 258 L280 256.4 L278.3 254.8 L276 254.8 L278.3 254.8 L279.2 253.2 L278.4 251.6 L279 250Z" style="stroke-width:1.4"/>
<path d="M283 238 L284 236.5 L281.4 234.8 L284 236.5 L285.9 235.6 L288 237 L285.9 235.6 L284.9 232.7 L287 232 L287.3 233.7 L285.2 234.5 L287.3 233.7 L288.4 235.1 L289.9 234.6 L288.4 235.1 L287.5 237.3 L284.8 238.3 L287.5 237.3 L288.7 238.7 L285.8 239.8 L288.7 238.7 L290 240 L289.8 241.7 L289 243.3 L289.1 245.2 L287.5 246.5 L288.3 248.6 L287 250 L287.1 248 L284.4 247 L286.4 244.5 L286.9 242.4 L290.1 241.3 L286.9 242.4 L286.1 240.8 L289.3 239.7 L286.1 240.8 L282.3 240.1 L283 238Z" style="stroke-width:1.4"/>
<path d="M297.8 248.9 L297.9 251 L298.6 253 L299 255 L298.5 256.8 L300 258.3 L296.9 258.9 L300 258.3 L300 260 L299.4 261.9 L297.1 262.3 L299.4 261.9 L300.9 263.3 L302.7 262.9 L300.9 263.3 L300.9 265 L300.6 266.8 L300.5 268.6 L302 270 L303.8 271.4 L303.8 273.1 L303.6 274.9 L302.7 276.8 L302.8 278.5 L304.9 278.1 L302.8 278.5 L304 280 L304.1 281.7 L305.6 283.2 L305.5 284.9 L303.1 285.4 L305.5 284.9 L305.7 286.6 L308.6 286 L305.7 286.6 L304.6 288.5 L307.2 288 L304.6 288.5 L306 290 L305.9 291.9 L308.4 292.9 L307.9 294.9 L310.9 294 L307.9 294.9 L310 296.1 L307.9 298.5 L305.4 299.3 L307.9 298.5 L309 300 L309.5 301.6 L310 303.3 L312.2 302.8 L310 303.3 L309.8 305 L310.2 306.7 L307.8 307.2 L310.2 306.7 L310.9 308.3 L311 310 L312.1 311.9 L315 310.9 L312.1 311.9 L311.6 314.2 L313 316" style="stroke-width:1.2"/>
<path d="M289 282 L291 282 L292.2 283.1 L292.2 285.7 L294 286 L295.5 286.9 L296.3 288.5 L294.2 290.6 L296.3 288.5 L297.7 289.5 L299 288.2 L297.7 289.5 L299.2 290.4 L300.7 288.9 L299.2 290.4 L300 292 L300.5 293.7 L301.5 295 L303.6 295.5 L304.2 297.2 L304.7 298.9 L306 300 L308.4 300.8 L306.2 303.9 L308.3 302.8 L306.2 303.9 L308.2 304.9 L309.7 306.2 L310 308 L308.9 310 L311.8 311.4 L308.9 310 L308 312 L307.1 310.5 L309.5 308.1 L307.1 310.5 L305.2 310 L306.4 308.8 L305.2 310 L304.3 308.5 L303.4 307 L302 306 L301.5 304 L298.9 303.8 L298.5 301.7 L296.5 303.5 L298.5 301.7 L297.9 299.8 L299.2 298.7 L297.9 299.8 L296 299 L295.5 297.2 L297.1 296.1 L295.5 297.2 L293.5 296.5 L293.1 294.7 L295.1 293.3 L293.1 294.7 L292.2 293.3 L291 292 L292.1 290 L290.1 290.4 L292.1 290 L289.1 288.9 L290.5 286.9 L291.3 285 L293.5 284.6 L291.3 285 L289.5 283.6 L292 283.1 L289.5 283.6 L289 282Z" style="stroke-width:1.2"/>
<path d="M306.5 315.9 L307.7 317 L309.3 317.6 L310.6 318.6 L313.4 317.3 L312.5 319 L312.6 321 L312 322.8 L312.1 325.2 L310.6 327 L308.7 327.9 L307.8 329.8 L305.1 328.4 L307.2 327.8 L307.3 325.9 L307.8 324.2 L307.9 321.9 L309.2 320 L308.2 318.7 L308.4 316.6 L306.5 315.9Z" style="stroke-width:2.2"/>
<path d="M299.5 308 L299.7 310.7 L297 312.3 L299.7 310.7 L302 312 L302.4 313.8 L304.1 314.6 L305 316 L304.1 317.9 L304.7 320.1 L304 322 L303.1 323.8 L301.4 324.8 L300 326" style="stroke-width:1.2"/>
<path d="M414 84 L416.4 84.4 L417.9 82.4 L420 82 L421.2 83.2 L424.3 81.9 L422.6 84 L424.3 81.9 L424 85" style="stroke-width:1.4"/>
<path d="M418 88 L419.8 89.5 L419.2 92.9 L419.8 89.5 L421.9 89 L421.5 91.7 L421.9 89 L424 89 L425.2 90.4 L426.8 91.6 L428 93" style="stroke-width:1.4"/>
<path d="M426 95 L428.1 94.8 L430 95.4 L432 96 L434.2 96.6 L436 95.6 L436.6 99 L436 95.6 L438 95" style="stroke-width:1.4"/>
<path d="M455 90 L456.6 91.1 L457.7 93.4 L456.5 96.1 L457.7 93.4 L460.3 92.2 L462 93 L463.6 92.7 L465.2 93 L466.7 91.4 L468.3 91.5 L470 92" style="stroke-width:1.4"/>
<path d="M458 96 L459.6 95.6 L459.6 98 L459.6 95.6 L461.2 97.1 L462.8 97.3 L464.4 95 L466 96 L467.6 96.6 L467.8 94.2 L467.6 96.6 L469.1 97.2 L470.7 97.5 L472.3 97.7 L472.6 95 L472.3 97.7 L474 97" style="stroke-width:1.4"/>
<path d="M472 64 L474.4 63.6 L476 65.4 L478 66" style="stroke-width:1.4"/>
<path d="M474 40 L475.4 41.2 L477.3 41.4 L476.4 43.3 L477.3 41.4 L478.9 42.2 L480.4 39.1 L478.9 42.2 L480.6 42.8 L482 44 L483.7 43.8 L485.3 43.6 L486.8 42.9 L488.2 41.6 L487.5 38.8 L488.2 41.6 L490 42" style="stroke-width:1.4"/>
<path d="M470 50 L471.8 49.6 L473.3 50.9 L474.7 52.3 L475.2 50.2 L474.7 52.3 L476.5 52.1 L478.4 51.2 L478.9 49 L478.4 51.2 L480 52 L481.9 53.1 L481.4 49.7 L481.9 53.1 L483.7 53 L485 50.2 L485.4 52.5 L485 50.2 L486.7 50 L486.5 48.4 L486.7 50 L488.7 51.6 L490.1 49.2 L489.7 46.5 L490.1 49.2 L492 50" style="stroke-width:1.4"/>
<path d="M476 60 L477.9 59.1 L479.3 60.9 L480.5 63.6 L482.6 61.6 L484.3 61.9 L486 62 L487.5 61 L489.5 62.2 L491.1 62.2 L492.7 61.5 L492.2 59.7 L492.7 61.5 L494 60" style="stroke-width:1.4"/>
<path d="M478 68 L479.8 67.7 L481.3 69 L483.2 67.9 L484.7 69.1 L486.3 69.9 L488 70 L489.6 69.4 L490.2 72.1 L489.6 69.4 L491.3 69.6 L492.8 68.9 L494.5 68.9 L495.1 71 L494.5 68.9 L496 68" style="stroke-width:1.4"/>
<path d="M342.2 107.8 L342.1 109.9 L340.1 110.7 L342.1 109.9 L343.2 111.5 L344.2 113.2 L345 115 L346.5 116 L347.2 117.8 L348 119.5 L350 120 L351.7 120.1 L353.7 119.5 L355 121.1 L354.2 124.5 L355 121.1 L356.7 121.5 L358.1 123.1 L360 122.5 L361.8 121.5 L363.6 122.7 L365.4 123.3 L367.1 122.3 L368.9 123.1 L370.7 123.6 L372.5 122.5 L374.7 122.1 L376.3 123.6 L375.4 126.2 L376.3 123.6 L378.1 124.5 L377.3 127 L378.1 124.5 L380 125 L380.2 127.2 L381.7 128.1 L384.1 128.1 L384.9 129.7 L384.9 131.5 L385.3 133.2 L386.6 134.6 L388.2 136.4 L389.9 134.2 L391.5 134.6 L391.4 137.2 L393.2 137.8 L391.6 139.4 L393.2 137.8 L395 138.5 L397.2 136.3 L395 138.5 L396.4 139.6 L397.9 140.7 L398.8 142.4 L400.6 140.6 L398.8 142.4 L401.2 142.6 L403.1 143.4 L401.9 144.6 L403.1 143.4 L403 146.1 L404.1 147.9 L405.9 148.5 L408.1 148.3 L409.6 149.4 L410.3 151 L412.1 150.4 L410.3 151 L411.4 152.5 L411.2 154.4 L409.7 155.7 L408.2 157 L406.3 157.6 L407.8 158.6 L409.2 160 L411.5 159.7 L412.9 160.9 L414.9 159.2 L416.3 160.5 L418 160.5 L419.6 161.3 L420 158.6 L419.6 161.3 L420.9 163.2 L422.7 162.6 L425 162.7 L426 164.8 L427.6 165.9 L429.5 167.1 L429 169.1 L428.6 171 L430.6 172.2 L429.8 174.3 L430.9 175.7 L431.6 174.1 L435 174.8 L431.6 174.1 L431.5 172.4 L428.5 171.8 L431.5 172.4 L430.8 170.5 L427.5 169.9 L430.8 170.5 L433 169.3 L432.6 167.5 L433 165.7 L430 164.5 L433 165.7 L432.5 163.7 L435.6 163 L434.5 160.6 L436 161.2 L434.5 160.6 L435.9 159.3 L437.5 160.8 L439.1 159 L440.8 158.5 L442.4 159.3 L443.3 161.7 L446.6 159.2 L446.6 163.3 L449 162.6 L450.8 163.2 L453.5 161.8 L455 158.8 L453.5 161.8 L454.8 163.4 L455.6 165.9 L457.2 165.5 L458.9 168 L458.9 170.2 L458.9 168 L460.6 166.4 L462.2 165.9 L463.8 165.3 L465.7 165.3 L467.1 164.2 L468.3 166 L470.1 166 L472 165.9 L472.4 167.5 L475.7 166.8 L472.4 167.5 L472.3 169.3 L472.9 170.9 L475.8 172 L473.7 174.1 L474.1 172.4 L476.6 173.6 L474.1 172.4 L473.7 170.4 L475.2 169.3 L478.2 170.7 L475.2 169.3 L477.5 168.5 L478 166.9 L478 165 L477.5 163.1 L480.5 161.8 L477.6 159.5 L478.3 157.8 L481.2 158.3 L478.3 157.8 L478.6 156 L480.2 154.5 L482.5 154.9 L480.2 154.5 L480.2 152.7 L480.3 151 L481.8 149.8 L483.8 148.8 L482.1 146.4 L483 145 L484.1 143.6 L484 141 L487.4 141.9 L488 140 L489.3 141.3 L491 140.7 L489.3 141.3 L488.9 143.3 L487.2 143.9 L488.9 143.3 L490.4 144.6 L490.5 146.3 L491 148 L491.4 149.7 L491.8 151.4 L492.1 153.1 L492.9 154.7 L493.4 156.4 L494 158 L495.1 159.4 L497.5 157.9 L495.1 159.4 L495.7 161.2 L496.6 162.8 L494.1 164.4 L496.6 162.8 L498 164 L499 165.4 L500.5 166 L502.3 166.3 L503 168 L505.2 168.8 L503.8 171.2 L506 170.2 L503.8 171.2 L506.3 171.8 L504 174.6 L506.9 175.1 L506.8 176.9 L507.6 178.3 L507.1 176.1 L507.9 174.2 L509.4 172.6 L510.6 171.3 L511.3 169.5 L510 168.2 L511.3 169.5 L513.6 169.3 L515 170.7 L513.6 169.3 L514.1 167.3 L516.4 167.1 L514.9 165.6 L516.4 167.1 L516.9 165.1 L518.2 163.9 L519 162 L521.5 162.8 L522.6 161.4 L521.9 159.5 L522 157.4 L520.7 155.7 L521.3 153.6 L520.2 152.3 L521.8 151.7 L520.2 152.3 L518.1 151.3 L518.8 149.2 L516.7 148.2 L514.7 149 L516.7 148.2 L517 146.3 L517 144.3 L516.6 142.4 L514.3 143 L516.6 142.4 L514.5 141 L516.6 140.4 L514.5 141 L515.1 138.8 L515.8 137.1 L518.1 138.5 L515.8 137.1 L515.5 134.8 L518.5 136.6 L515.5 134.8 L516.9 133.5 L517.6 131.8 L521 131.7 L520.7 129.4" style="stroke-width:1.4"/>
<path d="M491.7 179 L493.2 180.8 L495.1 180.6 L496.9 181.2 L498.9 180.8 L500.8 181 L502.5 181.8 L502.9 180.1 L502.5 181.8 L504.2 182.5 L504.9 180.1 L504.2 182.5 L506.1 182.7 L506.5 180.9 L508.2 179.3 L505.2 176.9 L507.1 175.4 L508.7 173.8 L508 171.8" style="stroke-width:1.4"/>
<path d="M512 0 L511.5 1.6 L512.8 3.8 L509.4 4.2 L508.9 5.8 L506.7 4.9 L508.9 5.8 L509.5 7.8 L508.6 9.2 L507.8 10.6 L506.5 12.2 L506 14.1 L504.8 15.7 L506.2 16.2 L504.8 15.7 L505.7 18 L504.2 19.9 L503.6 22.2 L504.4 24.1 L507.1 24.1 L504.4 24.1 L503.3 26 L504.3 27.9 L504.1 29.8 L501.8 29.8 L504.1 29.8 L503.6 31.7 L504.4 33.3 L502.1 33.6 L504.4 33.3 L504.5 35 L502.2 35.3 L504.5 35 L504.4 36.7 L504.7 38.4 L504.7 40.1 L505.5 41.8 L503.7 44 L505.5 41.8 L508.2 41.2 L508.6 43.4 L510 44.4 L511 46 L510.6 47.9 L511 49.6 L509.6 50.7 L509.7 52.5 L509.9 54.4 L507.4 55.1 L509.9 56.1 L507.4 55.1 L507.8 57 L508.2 59 L511.3 58.1 L508.2 59 L509.7 60.7 L511.2 60.3 L509.7 60.7 L509.5 62.9 L511.3 63.9 L512.8 60.8 L511.3 63.9 L513.4 64.3 L515.1 65.6 L515.5 67.3 L518.2 67.6 L517.9 69.8 L520.1 70.2 L519.2 72.8 L520.1 70.2 L522.1 71.2 L522.9 69.4 L524.1 71.2 L522.9 69.4 L526 71.1 L526.2 68.4 L527.2 66.9 L528.7 66 L530.4 65.6 L532.5 65.9 L534 64.3 L536 64.2 L537.6 64 L537.5 62.3 L537.6 64 L539.4 65.5 L540.9 63.6 L541.1 66.6 L540.9 63.6 L542.5 63.8 L544.1 65.5 L546.1 65.2 L545.7 67.9 L546.1 65.2 L547.8 66.4 L550 65 L551.5 66.2 L552.6 64.4 L551.5 66.2 L553.2 67.1 L555 68 L556.7 68.6 L558.5 68.8 L557.9 70.4 L558.5 68.8 L560 70 L561.4 70.9 L562.4 72.1 L564 72.7 L565 74 L566.7 75.2 L568.9 75.5 L570 77.5 L572.2 76.3 L571.4 79 L572.2 76.3 L573.2 79.1 L575 79 L576.9 79.6 L578.4 80.8 L580 82 L582 82.6 L582.5 79.6 L582 82.6 L584 82.9 L586 83 L588.1 82.5 L588.8 80.7 L588.1 82.5 L589 84.8 L590.8 85.1 L592.5 85.5 L593.8 86.9 L595.8 85.4 L593.8 86.9 L594.2 89 L596 90 L597.8 91.5 L600 92.5 L601.6 93.6 L603.2 94.7 L602 97 L604.3 98.1 L605 100.5 L606.3 102.2 L608.8 102.2 L610 104 L610.9 105.6 L612.9 106.1 L614.2 107.3 L616.3 105.2 L614.2 107.3 L615 109 L616.2 110.3 L618.2 110.1 L620 110.2 L621 112 L621.3 114.3 L622.9 115 L625.1 115.1 L627.2 112.6 L625.1 115.1 L626.6 115.9 L627.5 117.5 L629.7 116.7 L630.9 119.4 L633 119 L634.4 120.5 L633.2 122.9 L634.4 120.5 L636 121.7 L637.1 119.5 L636 121.7 L637.7 122.7 L640 122.5 L641.6 123.4 L643.3 124.2 L645 125 L646.9 125.4 L645.8 127.5 L646.9 125.4 L648.2 127 L647.4 128.6 L648.2 127 L650 127.5 L652 127.6 L654 127.4 L656 128 L657.6 127.2 L659.2 127.7 L660.8 127.3 L662.5 127.5 L663.7 126.2 L665 125 L667 125 L668.5 123.8 L670 122.5 L672 122.7 L673.8 120.4 L676 122 L678.3 121.7 L680 120 L680.3 117.9 L678 116.9 L678 115 L677.5 112.5 L676.1 110.9 L674.2 109.8 L675.5 108.5 L674.2 109.8 L673 108 L670.4 107.6 L671.6 106.4 L670.4 107.6 L670 105 L668.8 103.5 L667.2 102.4 L666 101 L665.6 99.1 L663.8 98.5 L662.5 97.5 L661.4 96.1 L660.6 94.4 L659.8 92.9 L658 92 L657.8 90 L656.4 88.7 L654.8 89.8 L656.4 88.7 L655 87.5 L654.7 85.3 L653.5 84.2 L652 85.8 L653.5 84.2 L650.7 84.8 L650 83 L648.5 81.7 L650.2 80.3 L648.5 81.7 L647.5 80 L647.4 78.2 L646.3 76.7 L646 75 L646.1 73.3 L647.4 71.7 L646.2 70 L647.1 68.4 L647.9 66.8 L648 65 L647.7 63.3 L646.6 61.8 L647.5 60 L647 57.8 L648.7 56.7 L647 57.8 L645.4 56.5 L644 57.5 L645.4 56.5 L644 55 L644.4 53.1 L642.5 51.8 L640 52.6 L642.5 51.8 L642.5 50 L641.2 48.4 L639.9 46.9 L638.4 48.6 L639.9 46.9 L638 46 L637.9 44.2 L637.5 42.5 L638.7 41 L639.2 39.3 L642.2 39.7 L639.2 39.3 L638 37.5 L638.1 35.8 L635.5 35.5 L638.1 35.8 L638.2 34.1 L638.8 32.5 L639.2 30.6 L639.5 28.6 L637.8 26.9 L635.1 27.2 L637.8 26.9 L638 25 L637.9 23.3 L639.9 21.4 L637.5 20 L636.6 18.6 L638.9 17.7 L636.6 18.6 L636.5 16.9 L638 16.3 L636.5 16.9 L635.4 15.6 L635 14 L632.8 12.6 L632.5 10 L632 8 L629.8 7.7 L629.2 5.8 L627.5 5 L626.1 3.6 L626.2 1.8 L629.4 0.8 L626.2 1.8 L626 0" style="stroke-width:1.4"/>
<path d="M590 0 L591.4 1.1 L589.8 2.7 L591.4 1.1 L592.8 2.2 L593.4 4.1 L595 5 L597.5 5 L598.6 6.4 L599.2 8.3 L600 10 L601.9 10.6 L602.3 12.7 L603.5 14 L605 15 L606.6 16.1 L608.8 15.8 L610.8 16.1 L612 18 L613.6 19.3 L615.5 19.8 L614.4 22.9 L615.5 19.8 L617.5 20 L618.3 21.7 L619.8 20.2 L618.3 21.7 L619.8 22.7 L621.4 23.6 L622.5 25 L622.7 23.1 L624.3 23.5 L622.7 23.1 L623.9 21.5 L624.2 19.7 L625 17.9 L625 16 L624.6 14.4 L623.9 12.9 L625.8 12.6 L623.9 12.9 L624.5 11.2 L627.6 10.8 L624.5 11.2 L624.1 9.6 L624 8" style="stroke-width:1.4"/>
<path d="M596 9 L596.8 10.7 L598.8 11.2 L600.1 9.9 L598.8 11.2 L600.1 12.4 L601 14 L602.5 12.5 L604.3 12.4 L605.2 15.3 L604.3 12.4 L606.4 13.1 L608 12" style="stroke-width:1.4"/>
<path d="M603 0 L604.5 1.2 L607.1 -0.6 L604.5 1.2 L604.1 3.6 L606 4.5 L608.1 3.1 L606 4.5 L607 6 L608.6 7.1 L611.1 5 L612.3 7.2 L612.8 5.7 L612.3 7.2 L614 8" style="stroke-width:1.4"/>
<path d="M665 0 L664.6 2.2 L665.7 3.9 L667.7 5.4 L667.5 7.5 L666.7 9.1 L667.2 11.6 L665.7 12.8 L664.3 14 L662.5 15 L662.8 17 L664.8 15.7 L662.8 17 L664.5 18 L665.8 19.3 L663.1 21.1 L665.8 19.3 L666.6 20.9 L667.5 22.5 L669.6 22.7 L671.3 21.3 L673.5 21.8 L675 20 L676.3 18.2 L678.6 20.1 L680 18.9 L681.6 18.2 L680.8 15 L681.6 18.2 L683.4 18.1 L685 17.5 L686.2 16.1 L688.4 17.6 L686.2 16.1 L687.6 14.9 L689.8 16.4 L687.6 14.9 L687.6 12.7 L689 11.5 L690 10 L691 8.4 L693.9 8.8 L691 8.4 L690.5 6.7 L692.3 5.2 L692.6 3.5 L689.6 1.5 L691.2 0" style="stroke-width:1.4"/>
<path d="M484.3 593.2 L486.2 592.9 L488.2 592.9 L487 594.4 L488.7 596.3 L488.1 597.8 L489.7 598 L488.1 597.8 L487.4 599.4 L488.4 601.4 L485.7 602.5 L488.8 605 L492.1 605.9 L488.8 605 L485.7 606 L484.8 607.5 L484.9 609.3 L483 610.8 L484.1 612.6 L486.3 614.4 L489.5 614.7 L486.3 614.4 L483.7 615.8 L486.2 617.7 L484.1 619.2 L483.3 620.8 L484.7 622.5 L482.5 624 L482.9 625.7 L485.3 625.9 L482.9 625.7 L483.2 627.3 L483.3 629 L485.3 630.5 L484 632.3 L487.1 632 L484 632.3 L483.1 634 L482.5 635.7 L480.7 635.9 L482.5 635.7 L483.4 637.3 L484.1 638.9 L484.2 640.7 L481.2 641.9 L484.2 640.7 L485 642.3 L486.1 643.7 L487.7 643.1 L486.1 643.7 L486.6 645.4 L488.1 646.8 L489 648.7 L489.4 650.4 L488.6 652.2 L489.9 653.7 L491 655.2 L489.3 656 L491 655.2 L491 657.2 L492.2 658.6 L493.1 660.2 L495 661.3 L496 662.9 L496.4 665" style="stroke-width:1.4"/>
<path d="M595 634.8 L593.1 635 L594.4 637.8 L593.1 635 L592.1 637.2 L593.1 639.2 L592.1 637.2 L590.5 638.1 L588.3 637.8 L586.8 638.9 L585.3 639.8 L585.8 641.5 L585.3 639.8 L583.2 638.9 L582.5 642.3 L580 640 L579.6 638.6 L580 640 L578.6 641.3 L575.8 641.3 L575.5 644.2 L573.7 645.4 L573.6 647.1 L574.8 648.9 L577 649.1 L574.8 648.9 L574.5 650.5 L577.1 650.8 L574.5 650.5 L573.6 652.1 L572.8 653.7 L574 655.2 L573 657 L575.3 656.6 L573 657 L573.7 658.6 L574.3 660.5 L571.5 659.7 L574.3 660.5 L572.8 661.8 L570.4 661.2 L572.8 661.8 L572.6 663.4 L572 665" style="stroke-width:1.4"/>
<path d="M611.5 647.1 L612.2 648.8 L608.9 648.5 L612.2 648.8 L610.8 650.3 L610 651.9 L606.7 651.5 L610 651.9 L612.1 653.8 L610.6 655.3 L611 657 L609.5 658.9 L612.1 660.4 L611.2 662.3 L611.5 664" style="stroke-width:1.4"/>
<path d="M706 551 L708.5 550.2 L708 551.8 L708.5 550.2 L709.5 553.9 L712 553 L713.6 553.5 L714.3 555.8 L712.9 558.7 L714.3 555.8 L716.4 555.5 L715.2 557.8 L716.4 555.5 L718 556 L718.2 558.4 L719.6 559.7 L722 560 L724.1 560.5 L725.6 562.4 L728 562" style="stroke-width:1.4"/>
<path d="M715 548 L716.6 548.6 L717 546.5 L716.6 548.6 L718.5 547.9 L720 549 L720.9 550.5 L722.7 551 L724 552" style="stroke-width:1.4"/>
<path d="M735 565 L736.7 565.4 L738.6 565.1 L740.3 565.7 L740.7 562.5 L740.3 565.7 L742 566 L743.7 567.6 L746.3 566.3 L748 568" style="stroke-width:1.4"/>
<path d="M746 572 L747 573.7 L749.1 571.6 L747 573.7 L748.2 575.1 L750 576 L750.5 578.1 L747.7 579 L750.5 578.1 L751.2 580 L748.3 581 L751.2 580 L752 582" style="stroke-width:1.4"/>
<path d="M766 616 L768 615.4 L770 615 L770 617.5 L772 619 L770.2 620.2 L768 620" style="stroke-width:1.4"/>
<path d="M406 127.5 L408 127.5 L409 129.2 L410.4 130.4 L412 131 L413.8 131.6 L415.9 131.7 L414.8 133.3 L415.9 131.7 L417.2 133 L418 135 L419.8 135.9 L421.1 137.2 L422.7 138.4 L423.8 140" style="stroke-width:1.4"/>
<path d="M407 123 L408.5 124.1 L410.1 124.8 L412 124.5 L413.3 125.7 L415.6 124.5 L416.6 122.3 L415.6 124.5 L416.5 126.5" style="stroke-width:1.4"/>
<path d="M406.5 137 L409.3 136.1 L408.8 137.6 L409.3 136.1 L411 138.5 L413 139.8 L415 141" style="stroke-width:1.4"/>
<path d="M596 1 L597.2 2.1 L599.2 0.5 L597.2 2.1 L599.5 2.3 L598.6 5.1 L600 6 L601.7 6.7 L602.3 8.3 L602.7 10 L604 11 L604.3 9 L605.9 7.9 L607.2 6.6 L608 5 L610 4.4 L610.2 2.5 L611 1" style="stroke-width:1.4"/>
<path d="M598 10 L599 11.3 L600.2 9.8 L599 11.3 L599.8 12.9 L601.5 13.4 L599.8 15.4 L601.5 13.4 L603 14 L603.9 12.2 L605.8 11.5 L607 10" style="stroke-width:1.4"/>
<path d="M615 8 L615.7 9.5 L616.7 10.9 L616.9 12.7 L618 14 L618.6 16 L618.7 18.2 L621.9 17.1 L618.7 18.2 L620 20 L619.4 17.7 L622.9 17.1 L624.4 17.7 L622.9 17.1 L622.3 14.8 L623 13 L624.1 11.4 L625.6 12 L624.1 11.4 L625.1 9.8 L626.2 8.2 L626 6" style="stroke-width:1.4"/>
<path d="M512 0 L510.7 1.8 L510 4 L509 5.5 L509 7.3 L507.6 8.7 L507.8 10.6 L507 12.8 L506 15" style="stroke-width:1.4"/>
<path d="M514 1 L515.4 2.8 L516 5 L514.7 6.1 L515.1 8.5 L513 9 L512.2 10.5 L509.5 10.6 L511.7 12.2 L509.5 10.6 L510 13" style="stroke-width:1.4"/>
<path d="M481 36 L481.9 37.9 L483.7 38.5 L484.7 37 L483.7 38.5 L486.4 37.6 L485.5 39 L486.4 37.6 L487 40 L489 40.4 L490.5 38.9 L491.4 42 L490.5 38.9 L492.3 38.5 L493.2 41.8 L492.3 38.5 L494 38" style="stroke-width:1.4"/>
<path d="M475 45 L476.8 45.7 L478.5 46.6 L480.6 46.3 L482.4 46.8 L484 48 L485.6 48.1 L485.3 45.5 L485.6 48.1 L487.1 47 L487.4 49.2 L487.1 47 L488.8 47.6 L490.3 46.8 L490.2 45.2 L490.3 46.8 L492 47 L494.7 46.2 L496.2 43.8 L494.7 46.2 L495.4 48.9 L496.2 47.5 L495.4 48.9 L497 50" style="stroke-width:1.4"/>
<path d="M582.7 155.7 L583.9 156.9 L585.4 157.5 L583.9 160.3 L585.4 157.5 L587 158 L588.7 159.1 L591 159.4 L589.2 162 L591 159.4 L592.1 161.4 L593.3 163 L593.8 165.3 L596 163.1 L593.8 165.3 L596.7 165.2 L597.7 167" style="stroke-width:1.4"/>
<path d="M492 112 L493.4 113.4 L492.3 115.3 L492.5 117 L495.8 117.9 L494 120 L494.7 121.7 L494 123.3 L494.5 124.9 L497.3 125.3 L494.5 124.9 L493.8 126.5 L493 128" style="stroke-width:1.4"/>
<path d="M401.4 94.9 L403 96.2 L405 96 L406.7 95.3 L408.5 95.5 L409.3 97.4 L411.7 95.4 L409.3 97.4 L411 98.5 L413.2 100.8 L414.6 102 L416.9 101.2 L417.9 103.1 L419.8 104.6 L419.7 106.9 L422.5 105.8 L419.7 106.9 L420.2 109 L418.5 109.5 L416.9 110.1 L415.5 111.3 L413.9 112.1 L412.2 112.6 L410.8 113.7 L408.4 113.8 L410.1 116 L408.4 113.8 L407.7 116 L405.8 113.5 L407.7 116 L406.1 117.2 L406.4 119.9 L408.3 121.7 L406.4 119.9 L403.4 119.2 L402.6 120.7 L400.2 120.4 L398 121.5 L395.9 121.7 L397.1 124.2 L395.9 121.7 L394.4 123.1 L394.2 121.2 L393.7 119.4 L392.3 117.9 L392 116 L390.2 114.7 L389.7 112.5 L390.1 110.8 L391.4 109.7 L392.5 108.5 L394.1 107.1 L395.6 105.5 L396.7 104.2 L398 103.2 L399.4 102.3 L400.3 100.8 L400.5 98.8 L400.7 96.8 L399.2 96.5 L400.7 96.8 L401.4 94.9Z" style="stroke-width:1.3"/>
<path d="M404.6 119.9 L405.3 121.5 L405.4 123.2 L404.7 125 L405.9 126.5 L406.3 128.1 L405 129.6 L408 130.1 L405 129.6 L407.5 131.6 L405.5 133 L405.1 134.7 L407.4 134.4 L405.1 134.7 L406.4 136.2 L406.3 137.9 L406 139.6 L403.5 139.6 L406 139.6 L406.3 141.2 L408.1 141.1 L409.4 143 L411.5 141.4 L412.9 142.9 L412.7 145.5 L413.8 144.4 L412.7 145.5 L415 145.7 L416.6 146.6 L417.8 147.8 L416 147.9 L415.2 145.4 L416 147.9 L414.5 148.6 L412.9 149.4 L412.6 151.3 L415.3 150.5 L412.6 151.3 L414.4 152.6 L414.5 154.4 L416.1 153.4 L417.8 155.1 L419.4 155.1 L419.4 153.6 L419.4 155.1 L421.1 153.4 L422.7 154.4 L424.9 154.1 L425.2 152.3 L424.9 154.1 L427 155 L428.8 155.5 L430.5 157 L432.6 156 L433.1 152.9 L436.5 155.5 L437.9 154.2 L439.2 152.7 L440.4 154.4 L438.9 157.4 L440.4 154.4 L442.6 154 L444 155.3 L445.7 156 L447.2 154.6 L449.4 154.3 L450.7 152.7 L451.3 150.7 L448.6 149 L451.3 150.7 L453.6 149.9 L452.1 149 L453.6 149.9 L453.9 147.8 L452.8 146.3 L455.6 145.4 L452.8 146.3 L452.8 144.5 L449.9 145.5 L452.8 144.5 L452.3 142.9 L451.3 141.5 L450.1 142.6 L451.3 141.5 L449.6 140.7 L447.4 142.8 L449.6 140.7 L447.7 140.1 L447.4 137.9 L447.6 136.2 L450.9 135.7 L447.6 136.2 L447.3 134.6 L445 133.2 L446.9 131.3 L447.1 129.5 L445.3 128.1 L445.7 126.4 L445.8 124.8 L446.9 123.1 L444.4 123.1 L446.9 123.1 L446.5 121.5 L446.4 119.8 L445.1 118.2 L446 116.5 L446 114.9 L443.7 114.4 L445.2 112.3 L443.7 114.4 L442.5 112.5 L440.1 112.8 L439 111.2 L440.1 112.8 L439 114.9 L437.8 116.5 L438.5 118.7 L436.5 120 L436.6 122 L435.5 120.7 L435.1 118.4 L437.5 116.8 L435.1 118.4 L433.1 117.2 L431.4 118 L429.6 118.4 L428 117.5 L426.1 117.2 L424.8 115.4 L422.6 116 L422.2 114.2 L420.6 115 L422.2 114.2 L420.7 113 L420.2 111.3 L418.3 112.1 L418.9 115.1 L418.3 112.1 L415.9 110.4 L415.4 107.9 L415.9 110.4 L414.3 112.5 L412.6 113 L410.8 113.2 L410.2 115.5 L408.5 116 L407.6 117.7 L409.4 119.5 L407.6 117.7 L404.9 117.6 L404.6 119.9Z" style="stroke-width:1.3"/>
<path d="M410.2 83.2 L411.6 82.1 L412.2 80.1 L414.4 80 L415.5 78.5 L417.2 77.6 L416.1 75.1 L417.2 77.6 L419 77 L420.3 75.1 L419 72.7 L420.3 75.1 L422.6 75 L424.7 74.3 L424.2 77.3 L424.7 74.3 L426.5 75.4 L426 78.1 L426.5 75.4 L428.4 76.1 L427.4 77.9 L427 80 L428.5 81 L431 79.5 L428.5 81 L429.2 82.6 L429.6 84.3 L431.2 85 L432.7 85.9 L434.3 86.7 L435.6 85.4 L437.3 84.8 L439 84.3 L439.6 86.2 L441.9 85.1 L439.6 86.2 L441 87.7 L443.5 86.5 L441 87.7 L441.5 89.7 L442.5 91.4 L443 93.2 L445 93.5 L446 94.9 L446.4 96.6 L444.6 97.9 L441.4 97.1 L444.6 97.9 L444.9 99.6 L443 99.1 L442.6 97 L443 99.1 L441.2 99.3 L441.7 102.3 L441.2 99.3 L439.6 100.8 L439.9 102.4 L439.6 100.8 L437.8 100.8 L435.6 99.8 L433.9 101.5 L431.9 102 L430 100.6 L428 101.8 L428 99.9 L428 101.8 L426.1 102 L424.5 100.5 L424.9 98.4 L423.5 97.4 L423.4 95.2 L421.5 94.8 L420.2 93.7 L418.5 92.5 L416.6 91.5 L416.7 89 L415.4 88 L413.8 87.3 L413.2 85.5 L411.9 84.2 L410.5 85.9 L411.9 84.2 L410.2 83.2Z" style="stroke-width:1.3"/>
<path d="M432 70 L432.6 68 L435.4 69 L437.2 71.4 L435.4 69 L436 67 L437.7 67.1 L439.3 67.2 L441 67.5 L441.8 69.7 L444.8 68.7 L441.8 69.7 L442.5 72 L440.7 73.2 L440.9 75.8 L438.8 74.3 L440.9 75.8 L439 77 L437.4 77.6 L435.4 76.2 L434 78 L432.7 76.6 L430.4 77.2 L432.7 76.6 L433.5 74.7 L432.1 73.4 L433.1 71.4 L432 70Z" style="stroke-width:1.3"/>
<path d="M447.5 77 L449 77 L448.7 78.7 L448 80.5 L449.5 82 L448 82 L448.1 80.3 L446.7 78.8 L448.9 78.5 L446.7 78.8 L447.5 77Z" style="stroke-width:1.3"/>
<path d="M449.6 64 L450.7 62.5 L453 63.7 L453.9 65.6 L453 63.7 L454 62 L455 63.3 L457.1 63.3 L458.3 64.3 L459 66 L458.7 68.1 L458.4 70.3 L460.1 72 L459.4 73.8 L458.6 75.5 L458 77.3 L456 77.2 L454.9 75.3 L453 75 L451.9 73.4 L449.7 74.7 L451.9 73.4 L451.2 71.5 L450 70 L449.3 68 L446.4 68.2 L449.3 68 L449.4 66 L449.6 64Z" style="stroke-width:1.3"/>
<path d="M461.3 68 L463 66.9 L462.4 65.3 L463 66.9 L465 66.7 L465.9 68.2 L463.9 69.9 L465.9 68.2 L467.3 69.3 L468.6 70.5 L471 68.5 L468.6 70.5 L469.5 72 L468.8 73.5 L470.2 75.6 L467.4 74.9 L470.2 75.6 L468 76.8 L468 78.5 L466.1 78.2 L464.7 76.7 L463 76 L461.8 74.6 L459.5 75.1 L461.8 74.6 L461.1 73.1 L458.5 73.6 L461.1 73.1 L463.4 70.9 L461.3 69.7 L461.3 68Z" style="stroke-width:1.3"/>
<path d="M457.8 60 L459.5 59.7 L461 59 L462.1 57.5 L463.1 56.1 L465 56 L466.6 56.9 L466.8 54.8 L466.6 56.9 L468.3 56.8 L470 56.6 L470.3 53.3 L470 56.6 L471.7 56.1 L473.5 55.6 L475 57 L476.4 58.3 L478.4 57.8 L479.6 59.8 L481.8 58.7 L483.4 59.1 L484 57.3 L483.4 59.1 L485 60 L483.8 61.5 L480.8 61.1 L483.8 61.5 L486.1 63.4 L485.2 64.9 L483.5 66.3 L486.4 66.7 L483.5 66.3 L484 68 L482.4 69 L481.6 71 L479.9 72 L478 72.6 L476.4 72.2 L474.4 72.8 L473.2 70.9 L471.5 70.9 L470 70 L468.2 69.6 L466.7 68.7 L464.6 68.8 L463.4 67.2 L462 66 L460.8 64.6 L460.5 62.6 L459.8 60.8 L457.3 62.6 L459.8 60.8 L457.8 60Z" style="stroke-width:1.3"/>
<path d="M449.6 86 L451.3 85 L453.1 84.6 L455 84.3 L457.3 84.2 L458.8 81.3 L457.3 84.2 L458.4 86.4 L460.2 87.2 L462 88 L463.4 86.9 L463 85.3 L463.4 86.9 L465.2 87.3 L466.6 86.1 L468.3 85.9 L468.9 88.2 L468.3 85.9 L470 86 L471.8 85.8 L471.1 88.5 L471.8 85.8 L473.1 87.4 L474.9 86.7 L476.6 86.6 L476.2 88.5 L476.6 86.6 L478 88 L479.6 89.1 L480.2 87 L479.6 89.1 L481.6 88.6 L483.1 90 L485 90 L485.4 91.7 L484.3 93.2 L482.9 94.6 L484.3 96.4 L484 98 L482 98.7 L480.1 99.5 L479.2 101.5 L478 103.1 L476.6 101.8 L475 101.3 L473.3 101.4 L471.2 102.8 L470 101 L468.5 100.3 L466.7 101.3 L465.1 100.9 L463.7 99.7 L462 100 L460.2 100 L458.8 97.4 L458.3 100.7 L458.8 97.4 L456.7 99.6 L455 99 L454.3 97.3 L452.8 96.7 L451.6 95.5 L450 95 L450.1 93.2 L448.2 93.3 L450.1 93.2 L450 91.4 L450.1 89.6 L449.5 87.8 L449.6 86Z" style="stroke-width:1.3"/>
<path d="M489.9 21.1 L491.8 21.8 L491.8 19.5 L491.8 21.8 L493.6 22 L495.4 20.9 L497.3 21.1 L499.4 21.8 L501.5 22.7 L502.9 24.7 L501.3 26.3 L500.8 28.1 L500.2 29.8 L500.4 31.7 L501.2 33.4 L501.3 35.2 L503.8 34.9 L501.3 35.2 L501.7 36.9 L504.9 36.6 L501.7 36.9 L500.7 38.8 L501 40.6 L501.5 42.3 L500.4 43.9 L499.9 45.6 L499.4 47.3 L502.1 47.9 L499.4 47.3 L501 49.5 L499.3 51 L499.4 52.8 L497.9 54.6 L499.7 56.9 L498.4 58.7 L498.3 60.7 L500.1 62 L500.8 63.8 L501.2 65.6 L501.9 67.2 L500.2 68.9 L501.8 70.5 L502 72.1 L501.3 73.8 L501.2 75.4 L499.3 75.7 L497.4 76.1 L495.6 76.8 L494 77.6 L492.1 77.1 L490.4 77.7 L488.7 78.2 L487.1 77 L487.5 75.3 L487.1 77 L485 78.3 L484.6 80.5 L485 78.3 L483.3 77.7 L482.7 80.7 L483.3 77.7 L481.7 76.8 L480 75.7 L480.6 73.5 L480 75.7 L478 75.8 L477.3 78.6 L478 75.8 L476.2 75.4 L475.6 73.6 L473.1 75.5 L475.6 73.6 L473.3 73.2 L471.9 72.1 L472 69.8 L471.6 67.6 L468.4 68.7 L471.6 67.6 L470.6 65.6 L470.3 63.6 L467.9 63.3 L468.3 60.8 L469.9 59.6 L468.3 60.8 L466.4 60.1 L465.4 58.4 L468.2 57.7 L465.4 58.4 L466.5 56.2 L464.4 54.8 L464.5 52.8 L463.6 50.7 L460.8 49.8 L463.6 50.7 L465.8 49.7 L466.5 48.2 L466.6 46.5 L467.8 45 L470.3 46.6 L467.8 45 L467.8 42.7 L470 44.1 L467.8 42.7 L470.4 42.1 L470.8 40.1 L472.1 39 L472 36.8 L473.9 36.2 L476.7 36.5 L479.4 38.7 L476.7 36.5 L476.1 33.8 L477.3 32.4 L478.5 31 L479.8 31.9 L478.5 31 L478.5 28.8 L480.3 27.9 L481.4 26.4 L482.7 25.3 L485.1 26.1 L486.2 24.6 L485.2 23.1 L486.2 24.6 L486.9 22.6 L488 21.1 L489.9 21.1Z" style="stroke-width:1.3"/>
<path d="M474.8 82.3 L476.7 82.8 L478.2 81.5 L480 81.3 L481.7 80.9 L483.3 81 L483.6 83.4 L483.3 81 L484.8 79.9 L486.6 81.3 L486.4 79.7 L486.6 81.3 L488.2 81.3 L489.7 79.6 L491.3 79.7 L492.9 79.5 L494.8 78.2 L496.2 80.2 L497.7 81.5 L499.5 81.1 L498.9 84.2 L499.5 81.1 L501.2 80.9 L501.3 82.7 L500.8 84.6 L503 86 L502.6 87.9 L503.6 89.6 L503.4 91.7 L505.1 91.2 L503.4 91.7 L504 93.5 L504.7 96.1 L502.3 97.2 L501.2 99 L499.4 98.7 L498 100.5 L496.3 100 L494.6 100.5 L492.9 100.4 L491.1 100 L490.7 97.4 L491.1 100 L489.5 100.5 L487.8 100.9 L486.3 102.3 L485.8 99.3 L486.3 102.3 L484.5 101.8 L482.7 101.7 L482.2 104.3 L482.7 101.7 L481.2 100.5 L479.3 100.6 L477.6 100.4 L477.4 98.6 L475.4 98 L475.6 95.9 L474 95 L473.4 93.5 L473.2 91.5 L472.2 89.2 L474.8 87.9 L474.3 86 L475.1 84.2 L474.8 82.3Z" style="stroke-width:1.3"/>
<path d="M451.9 112 L453.9 113 L454.8 110.6 L455.3 112.1 L454.8 110.6 L456.8 111.5 L458 110 L458.7 111.8 L459.7 110.4 L458.7 111.8 L460.9 111.7 L462 113 L463.7 113.8 L465.1 115 L466.2 116.5 L467.2 118 L467.3 119.8 L466.9 121.4 L465.9 122.8 L465 124.3 L468 125.1 L465 124.3 L465 126 L464.2 127.5 L462.6 128.6 L462 130.2 L461.7 132 L459 130.5 L461.7 132 L461.8 134 L460 135 L458.3 134 L457.3 132.2 L458.3 131 L457.3 132.2 L456.1 130.6 L454 130 L453.8 128.4 L452.3 128.7 L453.8 128.4 L454 126.6 L452.8 125.2 L452.7 123.5 L452 122 L451.3 120.3 L451.2 118.7 L451.4 117 L453.4 115.3 L453.1 113.7 L451.9 112Z" style="stroke-width:1.3"/>
<path d="M469.5 108 L471.1 108.5 L472.7 107.4 L474.4 107.3 L476 107.8 L477.2 109.5 L476.6 111.3 L477.2 109.5 L479.1 109.2 L480.9 109.2 L482.4 110 L481.5 111.5 L482.7 113.4 L480.7 114.7 L482.1 116.5 L478.8 116 L482.1 116.5 L481 118 L480 119.5 L476.8 118.2 L480 119.5 L480.6 121.5 L478.2 122.4 L477.7 124.1 L478 126 L475.4 126.6 L477 129.1 L476.8 130.9 L475.5 132.1 L474.3 133.3 L474 135 L472.5 133.6 L472.9 131.3 L470.1 130.5 L472.1 129.6 L470.1 130.5 L471 128 L470.6 126.4 L469.7 124.8 L471 123 L469.7 121.4 L470.3 119.7 L468.1 119.9 L470.3 119.7 L470 118 L468.9 116.4 L468.8 114.7 L470.1 113 L470.7 111.3 L470.1 109.6 L469.5 108Z" style="stroke-width:1.3"/>
<path d="M500 106.9 L501.8 106 L502.2 107.6 L501.8 106 L503.4 104.3 L505.7 105.6 L507.6 105 L509.6 104.9 L511.6 104.7 L513.2 106.5 L515.2 106.4 L514.7 108.5 L515.2 106.4 L517 106.9 L517.8 108.9 L519.9 109.6 L520.7 111.6 L521.8 110.5 L520.7 111.6 L522.6 112.5 L524.5 112.9 L524 115.2 L524.5 112.9 L526.4 112.9 L528.4 112.9 L530.2 113.4 L530.7 111 L530.2 113.4 L532 114.4 L533.8 115.1 L535.7 115.6 L537.5 116.2 L539.5 115.9 L541.4 116.3 L542.5 118.2 L544.8 116.9 L545.7 119.1 L545 120.9 L545.7 119.1 L547.7 118.7 L549.6 118.5 L550.8 120 L551.8 121.7 L553.4 122.8 L554.8 124.1 L556.6 124.8 L558.3 125.7 L559.8 126.4 L561.9 125.7 L563 127.6 L564.4 128.5 L565.6 130.2 L566.7 127.3 L565.6 130.2 L567.7 129.4 L569.5 129.9 L569 132.7 L569.5 129.9 L571.3 130.6 L572.9 132.6 L575.4 129.6 L575.8 127.9 L575.4 129.6 L577 131.3 L578.9 131.3 L580.8 131.5 L582.7 131.2 L584.6 131.3 L585.1 133 L587.5 131.4 L585.1 133 L586.3 134.3 L587.9 135.2 L588.3 137 L587.3 139.3 L584.8 139.9 L587.3 139.3 L587.8 141.1 L589.2 142.8 L590.2 144.5 L588.7 145.3 L587.8 146.9 L585.9 144 L587.8 146.9 L586.3 147.7 L584.6 148.2 L582.6 148.6 L581.6 146.7 L579.9 146.3 L578.3 145.8 L577.1 144.4 L578.3 141.2 L577.1 144.4 L575.2 144.5 L573.5 145.6 L574.4 148.5 L573.5 145.6 L571 144.5 L569.5 146.3 L570.8 148 L571.4 150.1 L572.8 151.3 L573.8 149.4 L572.8 151.3 L574.1 152.8 L575.8 153.4 L577.6 153.8 L579.2 154.7 L580.4 152.3 L579.2 154.7 L581.3 154.4 L582.7 155.7 L584.6 156 L583.5 158 L584.6 156 L586.1 157.2 L586.7 159.7 L585.3 162.1 L586.7 159.7 L589.5 158.6 L590.2 161.1 L592.1 161.4 L593.5 162.8 L593.3 165.8 L595.7 166.2 L594.3 167.6 L595.7 166.2 L597.7 167 L596 168.3 L594 168.1 L592.2 168.9 L590.2 168.9 L588.5 167 L586.3 169.7 L584.6 168.4 L584.3 171 L584.6 168.4 L582.6 168.7 L580.8 167.9 L581.7 169.7 L582.8 168.3 L581.7 169.7 L583.7 170.2 L585.4 170.9 L586.4 172.6 L587.9 173.5 L589.6 173.8 L588.6 176.9 L589.6 173.8 L591.5 173.3 L593 174.2 L594.5 175.2 L596.4 175.1 L596.9 173.3 L596.4 175.1 L597.7 176.4 L596.1 177.9 L594 177.7 L592.1 178.3 L590.5 178.5 L588.9 178.3 L587.3 178.4 L585.6 179.8 L584 179.5 L584 177.7 L584 179.5 L582.4 177.7 L580.8 178.3 L579.3 177.3 L579.7 175.1 L579.3 177.3 L577.4 178.7 L576.1 176.9 L576.3 175.4 L576.1 176.9 L574.4 176.8 L572.8 176.4 L571.2 176 L571.7 173.5 L571.2 176 L569.5 176.4 L568.1 175.4 L567.1 177.9 L568.1 175.4 L566.2 175.5 L565 178.5 L566.2 175.5 L564.7 174.6 L564.1 176.3 L564.7 174.6 L563.3 173.6 L561.3 174.2 L560.1 172.6 L558.2 172.3 L556.5 171 L557 169.1 L556.5 171 L554.6 170.8 L552.6 170.8 L551 172.2 L549 172.5 L548.6 170.5 L549 172.5 L547 172.4 L545.1 172.6 L542.3 172.4 L543.5 175.9 L541.4 176.4 L543.5 177.4 L545.1 179.2 L546.4 177.1 L547.1 178.5 L546.4 177.1 L549.1 177.8 L550.8 176.4 L550.9 174.6 L552.3 173.3 L552.2 171.5 L554 170.3 L556.7 171.2 L554 170.3 L552.8 168.1 L554.8 167 L551.8 166 L554.8 167 L554.5 165.1 L553.6 163.7 L552.9 162.1 L551.6 161 L550.8 159.5 L551 157.8 L549.7 157.1 L551 157.8 L552.6 156.7 L553 155 L554.9 154 L554.5 152 L553.3 150.7 L550.7 152.2 L553.3 150.7 L553.4 148.6 L552 149.5 L553.4 148.6 L552.1 147.4 L551 146 L549.2 145 L548.7 142.7 L546.1 142.5 L545.1 140.7 L542.9 141.6 L542.1 139.2 L540.1 139.7 L538.9 138.1 L537.3 137.5 L535.7 137 L534.7 135.1 L532.8 134.7 L531.7 133 L529 133.9 L528 132.1 L526.3 131.3 L524.4 130.6 L523.9 132.3 L524.4 130.6 L522.6 129.8 L522.1 131.4 L522.6 129.8 L520.7 129.4 L519.8 127.5 L517.8 127.9 L515.9 128.1 L515.4 125.4 L513.1 126.4 L512 125 L511 123.7 L509.4 122.9 L508.7 121.3 L506.5 123.5 L508.7 121.3 L506.8 120.9 L508.7 118.9 L506.8 120.9 L506.8 118.5 L505 118 L503.7 116.6 L505.6 115 L503.7 116.6 L502.3 115.1 L503.6 114.1 L502.3 115.1 L501 113.7 L500 112 L500.8 110.3 L500.7 108.6 L502.3 108.6 L500.7 108.6 L500 106.9Z" style="stroke-width:1.3"/>
<path d="M534 148 L535.5 146.3 L537 144.5 L538.4 146.6 L541 147 L541.3 148.8 L543.3 149.2 L541.3 148.8 L540.3 150.3 L540 152 L538.2 153.3 L536 153.8 L533.7 152.4 L535.1 149.8 L534 148Z" style="stroke-width:1.3"/>
<path d="M511.6 179 L513.8 179 L515.2 177.2 L516.3 178.8 L518.2 178.3 L518.9 176.6 L518.2 178.3 L519.5 179.5 L521.3 179.5 L520.6 181 L521.3 179.5 L522.6 180.5 L524.2 180.8 L525.4 182.2 L527.3 182 L528.8 182.5 L530.3 183.1 L532 183.2 L533.3 184.5 L534.3 185.9 L535.3 187.3 L536.9 188.1 L535.1 188.3 L533.2 186 L531.4 188.3 L529.6 188.1 L528.1 188.8 L527 190.1 L525.5 190.7 L524.2 191.7 L522.4 192.6 L522 194.5 L521.4 196.3 L518.8 196.6 L518.8 198.9 L518.3 197.4 L517.7 195.9 L514.7 197.3 L517.7 195.9 L517.5 194.2 L518.9 193.5 L517.5 194.2 L516.2 193 L515.2 191.7 L513.5 190.5 L515.5 188.2 L514.2 186.8 L515.8 186.4 L514.2 186.8 L513.1 185.4 L512.9 183.8 L510.4 184.5 L512.9 183.8 L513.5 181.9 L511.9 180.6 L513.5 180.2 L511.9 180.6 L511.6 179Z" style="stroke-width:1.3"/>
<path d="M526 200 L527.4 199.1 L529 198.5 L529.2 200.7 L526.3 202.4 L529.2 200.7 L531 202 L530.7 203.9 L529.3 204.9 L528 206 L527.1 204.1 L530.2 203 L527.1 204.1 L528.1 201.5 L526 200Z" style="stroke-width:1.3"/>
<path d="M542 200 L544.5 199 L544.6 201.3 L546 203 L544.7 204.7 L542.7 202.7 L544.7 204.7 L543 206 L541.9 204.1 L541.4 202.2 L542 200Z" style="stroke-width:1.3"/>
<path d="M693.6 561 L695.3 561.9 L697.4 561.9 L699 563 L700.9 563.6 L702.9 561.6 L700.9 563.6 L701 566 L702.5 567 L704 568 L704.1 570.2 L706.6 571.3 L706.5 573.6 L704.6 571.9 L702 572 L700.6 570.9 L699.5 569.5 L698.7 567.8 L700.9 565.6 L698.7 567.8 L697 567 L695.7 565.8 L693.8 566.9 L695.7 565.8 L695.8 563.7 L694.1 562.7 L693.6 561Z" style="stroke-width:1.3"/>
<path d="M690 540 L691.9 539.2 L693.3 540.8 L695 541 L694 544 L692.5 542.6 L692 545.1 L692.5 542.6 L690.5 544.1 L689.9 547 L690.5 544.1 L689 543 L690 540Z" style="stroke-width:1.3"/>
<path d="M763 577 L765.4 578 L767 576 L767 577.7 L765.1 578.1 L767 577.7 L766.5 579.6 L768 581 L767.3 582.8 L765.7 583.5 L764 584 L763 582.5 L762 581 L760.6 578.5 L763 577Z" style="stroke-width:1.3"/>
<path d="M563.5 250 L565.5 250.5 L565.5 252.3 L565.1 254.2 L566.9 254.2 L565.1 254.2 L565.5 256 L563.5 257 L564.7 255.2 L563.4 253.5 L565.5 253.5 L563.4 253.5 L565.2 251.8 L563.5 250Z" style="stroke-width:1.3"/>
<path d="M486 108 L488.1 107.9 L487.6 105.8 L488.1 107.9 L489.9 106.7 L492 106.5 L493.6 106 L495.2 106.5 L496.8 106.6 L498.4 107.1 L498.2 110.4 L498.4 107.1 L500 107 L500.9 108.5 L503.8 107.4 L504 110 L502.8 111.4 L501.9 112.9 L502.5 114.7 L503.7 116.7 L502 118 L502.5 120 L500.3 121 L498.7 122.2 L499.9 124.5 L499 126 L498.1 127.7 L496.1 128.9 L496.2 131 L496 133 L494.6 134.3 L493.4 131.3 L494.6 134.3 L493.1 135.4 L491 135 L489.6 134.1 L489.8 131.8 L487.6 131.5 L487 130 L486.8 128.3 L487.7 126.6 L485.3 126.8 L487.7 126.6 L486.5 125 L486.5 123.3 L488.9 123.1 L486.5 123.3 L485.9 121.7 L486 120 L485.4 118.3 L484.9 116.6 L486.6 114.9 L484.5 114.9 L486.6 114.9 L486.1 113.1 L485.9 111.4 L485.2 109.7 L487.8 109.7 L485.2 109.7 L486 108Z" style="stroke-width:1.3"/>
<path d="M556 68 L557.2 69.3 L559.6 68.3 L560.9 65.6 L559.6 68.3 L561.1 69.1 L559.6 72 L561.1 69.1 L562 71 L563.2 72.2 L564.8 70.3 L563.2 72.2 L565.1 72.6 L567.3 69.9 L565.1 72.6 L564.9 75.6 L566.8 76 L565.6 77.4 L566.8 76 L568.2 76.9 L570 77.5 L572.3 76.9 L573.4 78.9 L574.2 81.6 L576.7 80.5 L577.6 78.4 L576.7 80.5 L578.3 81.3 L578.9 79.9 L578.3 81.3 L580 82 L582.4 80.8 L581.9 82.8 L582.4 80.8 L584.2 82.3 L586 83.5 L587.6 84.2 L589.3 84.7 L589.8 83.2 L589.3 84.7 L591.5 83.8 L592.2 81.8 L591.5 83.8 L592.5 86 L593.5 87.4 L594.9 88.3 L593.1 90 L594.9 88.3 L594.8 90.7 L597 91 L598.1 92.6 L596.3 94.1 L598.1 92.6 L601.1 92.6 L601.4 95 L602 97 L603.8 97.7 L603.6 100.4 L605.6 100.9 L607 102 L607.8 103.9 L606.5 105.4 L607.8 103.9 L609.9 104.2 L608.5 105.9 L609.9 104.2 L610.6 106.2 L611.7 105 L610.6 106.2 L613.4 105.9 L614 108 L614.7 110.1 L613.8 111.7 L614.7 110.1 L617.1 109.1 L618.4 106.8 L617.1 109.1 L617.7 111.3 L619.2 108.7 L617.7 111.3 L620.9 108.8 L619.3 111.7 L620.9 108.8 L621 112 L622.3 113.1 L624 110.8 L622.3 113.1 L623.4 114.2 L625.2 114.7 L623.7 116.5 L625.2 114.7 L625 117.5 L626.7 115.3 L625 117.5 L627.5 117 L628.9 118 L630.7 117.9 L631.6 116.1 L630.7 117.9 L632.1 118.9 L630.7 121.9 L632.1 118.9 L633.2 120.4 L634.2 118.2 L633.2 120.4 L635 120.5 L636.5 121.8 L637.8 123.7 L640.3 123.1 L642 124 L642.9 126.4 L645.2 125.4 L644 128.1 L645.2 125.4 L646.1 127.7 L649.3 124.7 L648.1 127.4 L649.3 124.7 L650 127.5 L651.7 127 L652 123.7 L651.7 127 L653.1 128.8 L654.7 128.8 L656.4 128.4 L658 128.3 L659.7 126.5 L661.5 128 L663.2 127 L663.1 125.2 L663.2 127 L665 128 L665.9 126.1 L668.4 126.5 L669.1 124.4 L667.8 122.4 L669.1 124.4 L671 124 L673.1 123.6 L675.5 124.2 L674.9 122.2 L675.5 124.2 L677 122 L678.3 120.7 L679.8 122.1 L678.3 120.7 L679.4 119.4 L680.5 118" style="stroke-width:2.0"/>
<path d="M507.6 105 L509.8 105.3 L510.1 102.7 L509.8 105.3 L512 105.5 L513.5 106.6 L515.5 105.9 L514.6 108.9 L515.5 105.9 L517 106.9 L520.2 106.5 L518.6 108.1 L520.2 106.5 L519.4 110.1 L520.7 108.8 L519.4 110.1 L520.5 111.8 L522.4 109.9 L520.5 111.8 L522.6 112.5 L525.1 111.5 L524.4 114.8 L525.1 111.5 L527 113.5 L529 112 L530.3 114.3 L532 114.4 L533.6 115.2 L535.2 115.9 L534.6 118.6 L535.2 115.9 L537 115.5 L539.2 116 L538.7 118.6 L539.2 116 L541.4 116.3 L542.4 118.3 L544.8 116.6 L543.9 119.1 L544.8 116.6 L546 118 L547.1 119.7 L545.9 122.7 L547.1 119.7 L549.1 119.6 L550.8 120 L552.8 120.1 L554.5 120.8 L555 123 L557.9 122.9 L558.3 125.7 L559.6 126.9 L561.2 127.6 L563 127.5 L564.8 127.6 L566 124.6 L564.8 127.6 L566 129.2 L564.7 132.2 L566 129.2 L567.7 129.4 L569.5 131.3 L569.1 132.8 L569.5 131.3 L572 130.5 L573.6 131.2 L575.1 132.4 L574.9 134 L575.1 132.4 L577 131.3 L578.9 132.8 L580.8 131 L582.7 131.1 L584.6 131.3 L585.4 132.8 L586.9 133.8 L589.4 132.2 L586.9 133.8 L587.8 135.3 L589.3 134.4 L587.8 135.3 L588.3 137 L587.2 139.3 L590.1 140.5 L588.6 140.9 L590.1 140.5 L590.9 142.3 L590.2 144.5" style="stroke-width:2.0"/>
</g>
<text class="lbl" x="290.5" y="71.7" font-size="21.9" textLength="11.0" lengthAdjust="spacingAndGlyphs">A</text>
<text class="num" transform="translate(277.91,82.20) scale(0.78,1)" font-size="14.40" letter-spacing="5.05">40</text>
<text class="num" transform="translate(312.56,96.80) scale(0.78,1)" font-size="15.36" letter-spacing="3.96">40</text>
<text class="num" transform="translate(281.37,99.50) scale(0.78,1)" font-size="15.23" letter-spacing="4.88">33</text>
<text class="lbl" x="285.5" y="125.9" font-size="24.8" textLength="30.9" lengthAdjust="spacingAndGlyphs">EC</text>
<text class="num" transform="translate(266.22,126.60) scale(0.78,1)" font-size="14.27" letter-spacing="7.77">33</text>
<text class="num" transform="translate(321.82,118.20) scale(0.78,1)" font-size="14.27" letter-spacing="7.00">33</text>
<text class="num" transform="translate(274.46,141.20) scale(0.78,1)" font-size="15.36" letter-spacing="6.65">40</text>
<text class="lbl" x="268.9" y="155.8" font-size="23.9" textLength="13.9" lengthAdjust="spacingAndGlyphs">B</text>
<text class="lbl" x="313.9" y="342.3" font-size="23.0" textLength="13.8" lengthAdjust="spacingAndGlyphs">B</text>
<text class="lbl" x="338.2" y="378.3" font-size="22.9" textLength="30.3" lengthAdjust="spacingAndGlyphs">EC</text>
<text class="lbl" x="444.0" y="363.5" font-size="23.7" textLength="13.3" lengthAdjust="spacingAndGlyphs">B</text>
<text class="lbl" x="523.6" y="434.5" font-size="23.2" textLength="30.2" lengthAdjust="spacingAndGlyphs">EC</text>
<text class="lbl" x="655.8" y="348.2" font-size="20.6" textLength="14.0" lengthAdjust="spacingAndGlyphs">A</text>
<text class="num" transform="translate(315.45,435.40) scale(0.78,1)" font-size="15.50" letter-spacing="5.34">40</text>
<text class="num" transform="translate(489.96,474.50) scale(0.78,1)" font-size="13.58" letter-spacing="5.60">33</text>
<text class="num" transform="translate(466.07,494.20) scale(0.78,1)" font-size="13.44" letter-spacing="7.93">40</text>
<text class="num" transform="translate(441.40,505.70) scale(0.78,1)" font-size="14.68" letter-spacing="7.56">50</text>
<text class="lbl" x="460.0" y="543.9" font-size="24.1" textLength="14.9" lengthAdjust="spacingAndGlyphs">A</text>
<rect x="112" y="573.5" width="277" height="52.5" fill="#fff"/>
<rect x="596" y="588" width="166" height="60" fill="#fff"/>
<rect x="0" y="665" width="852" height="54" fill="#fff"/>
<text class="ttl" transform="translate(119.60,590.80) scale(1.080,1)" font-size="16.05" letter-spacing="0.968">THREE-MONTH OUTLOOK</text>
<text class="ttl" transform="translate(119.60,606.00) scale(1.080,1)" font-size="15.64" letter-spacing="1.216">TEMPERATURE PROBABILITY</text>
<text class="ttl" transform="translate(119.60,620.60) scale(1.080,1)" font-size="15.09" letter-spacing="1.546">0.5 MONTH LEAD</text>
<text class="ttl" transform="translate(119.60,635.60) scale(1.080,1)" font-size="15.50" letter-spacing="1.298">VALID DJF 2017</text>
<text class="ttl" transform="translate(119.60,650.00) scale(1.080,1)" font-size="15.91" letter-spacing="1.050">MADE 16 NOV 2017</text>
<text class="ttl ttlb" transform="translate(600.00,600.20) scale(1.080,1)" font-size="11.52" letter-spacing="0.841">EC MEANS EQUAL</text>
<text class="ttl ttlb" transform="translate(600.00,610.60) scale(1.080,1)" font-size="10.84" letter-spacing="1.254">CHANCES FOR A, N, B</text>
<text class="ttl ttlb" transform="translate(600.00,621.60) scale(1.080,1)" font-size="10.70" letter-spacing="1.337">A MEANS ABOVE</text>
<text class="ttl ttlb" transform="translate(600.00,633.00) scale(1.080,1)" font-size="11.11" letter-spacing="1.089">N MEANS NORMAL</text>
<text class="ttl ttlb" transform="translate(600.00,644.00) scale(1.080,1)" font-size="11.39" letter-spacing="0.924">B MEANS BELOW</text>
<defs><clipPath id="lc"><circle cx="173.8" cy="535" r="32.7"/></clipPath>
<path id="ringT" d="M141.27,546.20 A34.40,34.40 0 1 1 206.33,546.20" fill="none"/>
<path id="ringB" d="M138.52,552.98 A39.60,39.60 0 0 0 209.08,552.98" fill="none"/></defs>
<circle cx="173.8" cy="535" r="32.7" fill="#1E6EB9"/>
<g clip-path="url(#lc)">
<path d="M130,500 L130,515 L140,515.3 L147.3 515.5 C148.3 516.5 151.2 519.5 153.4 521.7 C155.6 523.9 158.4 526.7 160.6 528.9 C162.8 531.1 164.9 533.3 166.8 535 C168.7 536.7 170.4 538.3 172 539.2 C173.6 540.1 174.7 540.2 176.1 540.2 C177.5 540.2 178.7 540.2 180.2 539.2 C181.7 538.2 183.4 535.9 185.3 534 C187.2 532.1 189.6 530 191.5 527.8 C193.4 525.6 195.2 522.8 196.6 520.6 C198 518.4 199.2 515.5 199.7 514.5 L210,514 L216,514 L216,500 Z" fill="#19146A"/>
<path d="M138,512 L140,515.3 L147.3 515.5 C148.3 516.5 151.2 519.5 153.4 521.7 C155.6 523.9 158.4 526.7 160.6 528.9 C162.8 531.1 164.9 533.3 166.8 535 C168.7 536.7 170.4 538.3 172 539.2 C173.6 540.1 174.7 540.2 176.1 540.2 C177.5 540.2 178.7 540.2 180.2 539.2 C181.7 538.2 183.4 535.9 185.3 534 C187.2 532.1 189.6 530 191.5 527.8 C193.4 525.6 195.2 522.8 196.6 520.6 C198 518.4 199.2 515.5 199.7 514.5 L210,513 L212,519 L204.9,520.1 L204.9 520.1 C204 521.4 201.6 525.5 199.7 527.8 C197.8 530.1 195.6 532.1 193.6 534 C191.6 535.9 189.3 537.8 187.4 539.2 C185.5 540.6 183.9 541.4 182.2 542.2 C180.5 543 178.5 543.4 177 543.8 C175.5 544.1 174.3 544.4 173 544.3 C171.7 544.2 170.6 544 168.9 543.3 C167.2 542.6 164.9 541.8 162.7 540.2 C160.5 538.7 157.9 535.9 155.5 534 C153.1 532.1 150.6 530.3 148.3 528.9 C146 527.5 142.7 526.3 141.6 525.8 L136,525 Z" fill="#fff"/>
<path d="M162.7 547.4 C163.8 547 166.5 546.9 168.9 546.4 C171.3 545.9 174.5 545 177.1 544.3 C179.7 543.6 182.4 542.7 184.3 542.2 C186.2 541.7 187.5 541.4 188.4 541.4 C189.3 541.4 190.2 541.6 190 542 C189.8 542.4 189.2 543 187.4 543.6 C185.6 544.2 181.9 545 179.2 545.8 C176.4 546.6 173.3 547.8 170.9 548.4 C168.5 549 166.2 549.4 164.7 549.4 C163.2 549.4 162.3 548.9 162 548.6 C161.7 548.3 161.5 547.8 162.7 547.4Z" fill="#fff"/>
</g>
<text x="158.6" y="523.8" font-family="Liberation Sans,sans-serif" font-weight="bold" font-size="12.5" fill="#fff" textLength="28.4" lengthAdjust="spacingAndGlyphs">NOAA</text>
<text font-family="Liberation Sans,sans-serif" font-weight="bold" font-size="5.6" fill="#2a2a3a"><textPath href="#ringT" textLength="129.9" lengthAdjust="spacingAndGlyphs">NATIONAL OCEANIC AND ATMOSPHERIC ADMINISTRATION</textPath></text>
<text font-family="Liberation Sans,sans-serif" font-weight="bold" font-size="5.6" fill="#2a2a3a"><textPath href="#ringB" textLength="86.1" lengthAdjust="spacingAndGlyphs">U.S. DEPARTMENT OF COMMERCE</textPath></text>
<rect x="101.0" y="665.3" width="31.6" height="16.4" fill="#A4C2E2"/>
<rect x="132.6" y="665.3" width="31.6" height="16.4" fill="#7DB4E4"/>
<rect x="164.3" y="665.3" width="31.6" height="16.4" fill="#3C9EDC"/>
<rect x="195.9" y="665.3" width="31.6" height="16.4" fill="#165CA4"/>
<rect x="227.5" y="665.3" width="31.6" height="16.4" fill="#2D4070"/>
<rect x="259.1" y="665.3" width="31.6" height="16.4" fill="#241C58"/>
<rect x="290.8" y="665.3" width="31.6" height="16.4" fill="#1E1642"/>
<rect x="132.2" y="665.3" width="0.8" height="16.4" fill="#fff" opacity="0.6"/>
<rect x="163.9" y="665.3" width="0.8" height="16.4" fill="#fff" opacity="0.6"/>
<rect x="195.5" y="665.3" width="0.8" height="16.4" fill="#fff" opacity="0.6"/>
<rect x="227.1" y="665.3" width="0.8" height="16.4" fill="#fff" opacity="0.6"/>
<rect x="258.7" y="665.3" width="0.8" height="16.4" fill="#fff" opacity="0.6"/>
<rect x="290.4" y="665.3" width="0.8" height="16.4" fill="#fff" opacity="0.6"/>
<text class="lg" x="95.6" y="689.4" font-size="8.6" textLength="15.5" lengthAdjust="spacingAndGlyphs">33%</text>
<text class="lg" x="128.0" y="689.4" font-size="8.6" textLength="15.5" lengthAdjust="spacingAndGlyphs">40%</text>
<text class="lg" x="160.4" y="689.4" font-size="8.6" textLength="15.5" lengthAdjust="spacingAndGlyphs">50%</text>
<text class="lg" x="190.8" y="689.4" font-size="8.6" textLength="14.7" lengthAdjust="spacingAndGlyphs">60%</text>
<text class="lg" x="222.4" y="689.4" font-size="8.6" textLength="15.5" lengthAdjust="spacingAndGlyphs">70%</text>
<text class="lg" x="256.2" y="689.4" font-size="8.6" textLength="14.1" lengthAdjust="spacingAndGlyphs">80%</text>
<text class="lg" x="284.4" y="689.4" font-size="8.6" textLength="15.5" lengthAdjust="spacingAndGlyphs">90%</text>
<text class="lg" x="312.5" y="689.4" font-size="8.6" textLength="17.5" lengthAdjust="spacingAndGlyphs">100%</text>
<text class="lg" x="165.5" y="700.6" font-size="8.8" textLength="75.2" lengthAdjust="spacingAndGlyphs">Probability of Below</text>
<rect x="345.9" y="665.3" width="31.0" height="16.4" fill="#DCD6D6"/>
<rect x="376.9" y="665.3" width="31.0" height="16.4" fill="#B4B0B0"/>
<rect x="407.8" y="665.3" width="31.0" height="16.4" fill="#928E8E"/>
<rect x="438.8" y="665.3" width="31.0" height="16.4" fill="#807C7C"/>
<rect x="469.8" y="665.3" width="31.0" height="16.4" fill="#686464"/>
<rect x="500.8" y="665.3" width="31.0" height="16.4" fill="#545052"/>
<rect x="531.7" y="665.3" width="31.0" height="16.4" fill="#343032"/>
<rect x="376.5" y="665.3" width="0.8" height="16.4" fill="#fff" opacity="0.6"/>
<rect x="407.4" y="665.3" width="0.8" height="16.4" fill="#fff" opacity="0.6"/>
<rect x="438.4" y="665.3" width="0.8" height="16.4" fill="#fff" opacity="0.6"/>
<rect x="469.4" y="665.3" width="0.8" height="16.4" fill="#fff" opacity="0.6"/>
<rect x="500.4" y="665.3" width="0.8" height="16.4" fill="#fff" opacity="0.6"/>
<rect x="531.3" y="665.3" width="0.8" height="16.4" fill="#fff" opacity="0.6"/>
<text class="lg" x="340.8" y="689.4" font-size="8.6" textLength="14.9" lengthAdjust="spacingAndGlyphs">33%</text>
<text class="lg" x="373.0" y="689.4" font-size="8.6" textLength="15.2" lengthAdjust="spacingAndGlyphs">40%</text>
<text class="lg" x="405.4" y="689.4" font-size="8.6" textLength="15.3" lengthAdjust="spacingAndGlyphs">50%</text>
<text class="lg" x="435.6" y="689.4" font-size="8.6" textLength="15.0" lengthAdjust="spacingAndGlyphs">60%</text>
<text class="lg" x="468.7" y="689.4" font-size="8.6" textLength="15.2" lengthAdjust="spacingAndGlyphs">70%</text>
<text class="lg" x="500.3" y="689.4" font-size="8.6" textLength="14.4" lengthAdjust="spacingAndGlyphs">80%</text>
<text class="lg" x="532.0" y="689.4" font-size="8.6" textLength="15.2" lengthAdjust="spacingAndGlyphs">90%</text>
<text class="lg" x="553.0" y="689.4" font-size="8.6" textLength="19.2" lengthAdjust="spacingAndGlyphs">100%</text>
<text class="lg" x="396.8" y="700.6" font-size="8.8" textLength="100.6" lengthAdjust="spacingAndGlyphs">Probability of Near-Normal</text>
<rect x="582.6" y="665.3" width="31.8" height="16.4" fill="#E4B26E"/>
<rect x="614.4" y="665.3" width="31.8" height="16.4" fill="#F88C50"/>
<rect x="646.1" y="665.3" width="31.8" height="16.4" fill="#D65434"/>
<rect x="677.9" y="665.3" width="31.8" height="16.4" fill="#C82A30"/>
<rect x="709.7" y="665.3" width="31.8" height="16.4" fill="#C82C48"/>
<rect x="741.5" y="665.3" width="31.8" height="16.4" fill="#8A2C38"/>
<rect x="773.2" y="665.3" width="31.8" height="16.4" fill="#601E26"/>
<rect x="614.0" y="665.3" width="0.8" height="16.4" fill="#fff" opacity="0.6"/>
<rect x="645.7" y="665.3" width="0.8" height="16.4" fill="#fff" opacity="0.6"/>
<rect x="677.5" y="665.3" width="0.8" height="16.4" fill="#fff" opacity="0.6"/>
<rect x="709.3" y="665.3" width="0.8" height="16.4" fill="#fff" opacity="0.6"/>
<rect x="741.1" y="665.3" width="0.8" height="16.4" fill="#fff" opacity="0.6"/>
<rect x="772.8" y="665.3" width="0.8" height="16.4" fill="#fff" opacity="0.6"/>
<text class="lg" x="579.3" y="689.4" font-size="8.6" textLength="15.5" lengthAdjust="spacingAndGlyphs">33%</text>
<text class="lg" x="609.7" y="689.4" font-size="8.6" textLength="14.9" lengthAdjust="spacingAndGlyphs">40%</text>
<text class="lg" x="642.2" y="689.4" font-size="8.6" textLength="15.5" lengthAdjust="spacingAndGlyphs">50%</text>
<text class="lg" x="674.3" y="689.4" font-size="8.6" textLength="14.9" lengthAdjust="spacingAndGlyphs">60%</text>
<text class="lg" x="705.0" y="689.4" font-size="8.6" textLength="15.6" lengthAdjust="spacingAndGlyphs">70%</text>
<text class="lg" x="737.2" y="689.4" font-size="8.6" textLength="14.9" lengthAdjust="spacingAndGlyphs">80%</text>
<text class="lg" x="769.6" y="689.4" font-size="8.6" textLength="15.6" lengthAdjust="spacingAndGlyphs">90%</text>
<text class="lg" x="794.4" y="689.4" font-size="8.6" textLength="18.9" lengthAdjust="spacingAndGlyphs">100%</text>
<text class="lg" x="647.8" y="700.6" font-size="8.8" textLength="76.1" lengthAdjust="spacingAndGlyphs">Probability of Above</text>
</svg>
</body></html>
